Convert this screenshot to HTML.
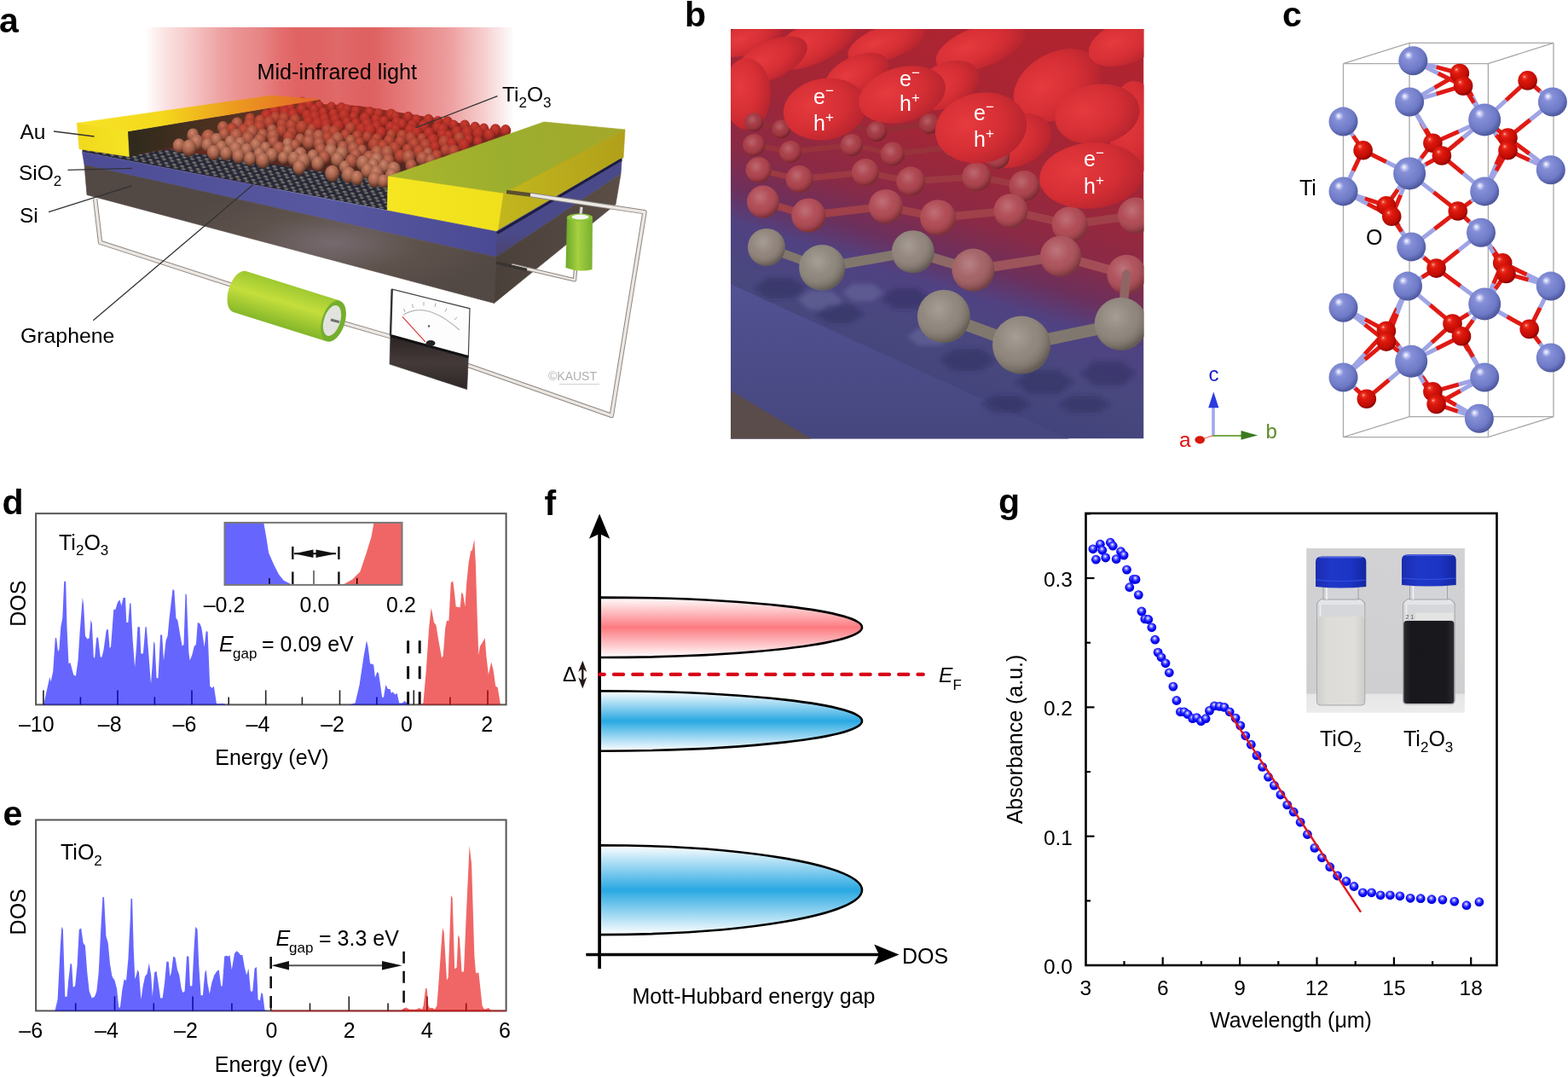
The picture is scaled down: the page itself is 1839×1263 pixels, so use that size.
<!DOCTYPE html>
<html><head><meta charset="utf-8"><title>Ti2O3 figure</title>
<style>
html,body{margin:0;padding:0;background:#fff;overflow:hidden;}
svg{display:block}
text{font-family:"Liberation Sans", Arial, Helvetica, sans-serif;fill:#000;}
</style></head>
<body>
<svg width="1839" height="1263" viewBox="0 0 1839 1263">
<defs>
<linearGradient id="gred" x1="0" y1="0" x2="0" y2="1">
 <stop offset="0" stop-color="#fff"/><stop offset="0.5" stop-color="#fc7a80"/><stop offset="1" stop-color="#fff"/>
</linearGradient>
<linearGradient id="gblue" x1="0" y1="0" x2="0" y2="1">
 <stop offset="0" stop-color="#fff"/><stop offset="0.5" stop-color="#28a8e2"/><stop offset="1" stop-color="#fff"/>
</linearGradient>
<radialGradient id="gdot" cx="0.45" cy="0.4" r="0.6" fx="0.45" fy="0.35">
 <stop offset="0" stop-color="#fff"/><stop offset="0.3" stop-color="#6a6aff"/><stop offset="0.6" stop-color="#1010ff"/><stop offset="1" stop-color="#0000d0"/>
</radialGradient>
<linearGradient id="gphotobg" x1="0" y1="0" x2="0" y2="1">
 <stop offset="0" stop-color="#d2d2d4"/><stop offset="0.88" stop-color="#cfcfd1"/><stop offset="0.89" stop-color="#e6e6e6"/><stop offset="1" stop-color="#ececec"/>
</linearGradient>
<linearGradient id="gcap" x1="0" y1="0" x2="1" y2="0">
 <stop offset="0" stop-color="#1a2cb0"/><stop offset="0.3" stop-color="#2038c8"/><stop offset="0.7" stop-color="#1c34c4"/><stop offset="1" stop-color="#1426a0"/>
</linearGradient>
<linearGradient id="gliqw" x1="0" y1="0" x2="1" y2="0">
 <stop offset="0" stop-color="#cfcfcc"/><stop offset="0.2" stop-color="#dddcd9"/><stop offset="0.8" stop-color="#dfdedb"/><stop offset="1" stop-color="#cdcdca"/>
</linearGradient>
<linearGradient id="gliqb" x1="0" y1="0" x2="1" y2="0">
 <stop offset="0" stop-color="#2a2a2e"/><stop offset="0.15" stop-color="#18181c"/><stop offset="0.85" stop-color="#1a1a1e"/><stop offset="1" stop-color="#2c2c30"/>
</linearGradient>

<linearGradient id="grside" gradientUnits="userSpaceOnUse" x1="0" y1="272" x2="0" y2="302"><stop offset="0" stop-color="#4a4a8a"/><stop offset="1" stop-color="#4c4470"/></linearGradient>
<filter id="fblur2" x="-20%" y="-20%" width="140%" height="140%"><feGaussianBlur stdDeviation="2.5"/></filter>
<linearGradient id="glight" gradientUnits="userSpaceOnUse" x1="170" y1="0" x2="603" y2="0">
 <stop offset="0" stop-color="#fff"/><stop offset="0.07" stop-color="#fadada"/><stop offset="0.16" stop-color="#f2b4b4"/>
 <stop offset="0.25" stop-color="#ea9090"/><stop offset="0.37" stop-color="#e26868"/><stop offset="0.48" stop-color="#de5c5c"/>
 <stop offset="0.6" stop-color="#de5e5e"/><stop offset="0.72" stop-color="#e57676"/><stop offset="0.83" stop-color="#eea0a0"/>
 <stop offset="0.92" stop-color="#f6cccc"/><stop offset="1" stop-color="#fff"/>
</linearGradient>
<linearGradient id="glightstreak" gradientUnits="userSpaceOnUse" x1="170" y1="0" x2="260" y2="0" spreadMethod="repeat">
 <stop offset="0" stop-color="#fff" stop-opacity="0"/><stop offset="0.5" stop-color="#fff" stop-opacity="0.15"/><stop offset="1" stop-color="#fff" stop-opacity="0"/>
</linearGradient>
<pattern id="pmesh" patternUnits="userSpaceOnUse" width="7" height="5" patternTransform="rotate(11) skewX(-30) scale(1.35)">
 <rect width="7" height="5" fill="#262636"/>
 <rect x="0.5" y="0.6" width="2.8" height="1.6" fill="#7a7a72"/><rect x="4" y="3" width="2.8" height="1.6" fill="#727270"/>
 <rect x="2.6" y="1.4" width="1.8" height="2" fill="#5e5e5c"/>
</pattern>
<linearGradient id="gwall" gradientUnits="userSpaceOnUse" x1="150" y1="0" x2="376" y2="0">
 <stop offset="0" stop-color="#2e2a1c"/><stop offset="0.4" stop-color="#4a3020"/><stop offset="1" stop-color="#7a3424"/>
</linearGradient>
<radialGradient id="gp1" cx="0.42" cy="0.3" r="0.72"><stop offset="0" stop-color="#cc3c30"/><stop offset="0.55" stop-color="#ac2e26"/><stop offset="1" stop-color="#6c1a14"/></radialGradient>
<radialGradient id="gp2" cx="0.42" cy="0.3" r="0.72"><stop offset="0" stop-color="#cc5440"/><stop offset="0.55" stop-color="#a43e2e"/><stop offset="1" stop-color="#5a2018"/></radialGradient>
<radialGradient id="gp3" cx="0.42" cy="0.3" r="0.72"><stop offset="0" stop-color="#cc7058"/><stop offset="0.55" stop-color="#9e4e3c"/><stop offset="1" stop-color="#4a2218"/></radialGradient>
<radialGradient id="gp4" cx="0.42" cy="0.3" r="0.72"><stop offset="0" stop-color="#d0866c"/><stop offset="0.55" stop-color="#a2604a"/><stop offset="1" stop-color="#4a281c"/></radialGradient>
<linearGradient id="gpunder" gradientUnits="userSpaceOnUse" x1="0" y1="220" x2="0" y2="120"><stop offset="0" stop-color="#3a2420"/><stop offset="0.5" stop-color="#6a2a20"/><stop offset="1" stop-color="#9a2a20"/></linearGradient>
<linearGradient id="gpadtop" gradientUnits="userSpaceOnUse" x1="90" y1="0" x2="376" y2="0">
 <stop offset="0" stop-color="#f6e426"/><stop offset="0.35" stop-color="#f4d81c"/><stop offset="0.65" stop-color="#ec9a1e"/><stop offset="1" stop-color="#e2642a"/>
</linearGradient>
<linearGradient id="gpadfront" x1="0" y1="0" x2="1" y2="0"><stop offset="0" stop-color="#f2d81c"/><stop offset="1" stop-color="#f4e424"/></linearGradient>
<linearGradient id="grpadtop" gradientUnits="userSpaceOnUse" x1="455" y1="207" x2="733" y2="152">
 <stop offset="0" stop-color="#aab62c"/><stop offset="0.5" stop-color="#9cae2e"/><stop offset="1" stop-color="#a4a82a"/>
</linearGradient>
<linearGradient id="grpadside" gradientUnits="userSpaceOnUse" x1="590" y1="0" x2="733" y2="0">
 <stop offset="0" stop-color="#c2b61e"/><stop offset="1" stop-color="#b0a01a"/>
</linearGradient>
<linearGradient id="grpadfront" x1="0" y1="0" x2="1" y2="0"><stop offset="0" stop-color="#f6e622"/><stop offset="1" stop-color="#f0e01c"/></linearGradient>
<linearGradient id="gsio2" gradientUnits="userSpaceOnUse" x1="96" y1="0" x2="580" y2="0">
 <stop offset="0" stop-color="#4c4c96"/><stop offset="0.6" stop-color="#5858a0"/><stop offset="1" stop-color="#4a4a94"/>
</linearGradient>
<radialGradient id="gsi" gradientUnits="userSpaceOnUse" cx="390" cy="285" r="200" gradientTransform="translate(390 285) scale(1 0.35) translate(-390 -285)">
 <stop offset="0" stop-color="#766a70"/><stop offset="0.5" stop-color="#5e524c"/><stop offset="1" stop-color="#524844"/>
</radialGradient>
<linearGradient id="gsiside" gradientUnits="userSpaceOnUse" x1="580" y1="0" x2="730" y2="0">
 <stop offset="0" stop-color="#4a403a"/><stop offset="1" stop-color="#5a4e46"/>
</linearGradient>
<linearGradient id="gsmallcyl" x1="0" y1="0" x2="1" y2="0">
 <stop offset="0" stop-color="#6aa82a"/><stop offset="0.45" stop-color="#a6d040"/><stop offset="1" stop-color="#78b030"/>
</linearGradient>
<linearGradient id="gbatt" gradientUnits="userSpaceOnUse" x1="288" y1="318" x2="274" y2="366" spreadMethod="pad">
 <stop offset="0" stop-color="#9cc830"/><stop offset="0.45" stop-color="#c4de3c"/><stop offset="1" stop-color="#86b82a"/>
</linearGradient>
<linearGradient id="gmeter" x1="0" y1="0" x2="0" y2="1">
 <stop offset="0" stop-color="#2a2222"/><stop offset="0.5" stop-color="#443a3a"/><stop offset="1" stop-color="#2e2626"/>
</linearGradient>
<linearGradient id="gbbg" gradientUnits="userSpaceOnUse" x1="1180" y1="34" x2="1040" y2="485">
 <stop offset="0" stop-color="#b02430"/><stop offset="0.3" stop-color="#a22636"/><stop offset="0.48" stop-color="#8a2a46"/>
 <stop offset="0.58" stop-color="#6c305c"/><stop offset="0.66" stop-color="#504282"/><stop offset="0.8" stop-color="#48487e"/><stop offset="1" stop-color="#40407a"/>
</linearGradient>
<radialGradient id="gshade" cx="0.4" cy="0.36" r="0.64"><stop offset="0" stop-color="#fff" stop-opacity="0.22"/><stop offset="0.5" stop-color="#fff" stop-opacity="0.04"/><stop offset="0.85" stop-color="#000" stop-opacity="0.12"/><stop offset="1" stop-color="#000" stop-opacity="0.3"/></radialGradient>
<radialGradient id="gblob" cx="0.35" cy="0.4" r="0.7"><stop offset="0" stop-color="#e63a3e"/><stop offset="0.6" stop-color="#d42e34"/><stop offset="1" stop-color="#b4242e"/></radialGradient>
<radialGradient id="gballr" cx="0.4" cy="0.35" r="0.65"><stop offset="0" stop-color="#b8505a"/><stop offset="0.7" stop-color="#98384a"/><stop offset="1" stop-color="#70283c"/></radialGradient>
<radialGradient id="gballr2" cx="0.4" cy="0.35" r="0.65"><stop offset="0" stop-color="#d06a6c"/><stop offset="0.7" stop-color="#b25056"/><stop offset="1" stop-color="#8a3a44"/></radialGradient>
<radialGradient id="gballg" cx="0.42" cy="0.35" r="0.65"><stop offset="0" stop-color="#a29a8e"/><stop offset="0.7" stop-color="#867c72"/><stop offset="1" stop-color="#5e564e"/></radialGradient>
<linearGradient id="gbfront" gradientUnits="userSpaceOnUse" x1="0" y1="330" x2="0" y2="515">
 <stop offset="0" stop-color="#525294"/><stop offset="1" stop-color="#46467e"/>
</linearGradient>
<radialGradient id="gti" cx="0.42" cy="0.38" r="0.62" fx="0.33" fy="0.3"><stop offset="0" stop-color="#ffffff"/><stop offset="0.1" stop-color="#c8ccf4"/><stop offset="0.25" stop-color="#8690d8"/><stop offset="0.75" stop-color="#6e7ac6"/><stop offset="1" stop-color="#4c569c"/></radialGradient>
<radialGradient id="go" cx="0.42" cy="0.38" r="0.62" fx="0.33" fy="0.3"><stop offset="0" stop-color="#ffd0c8"/><stop offset="0.12" stop-color="#f04030"/><stop offset="0.3" stop-color="#e01a0e"/><stop offset="0.8" stop-color="#c00c04"/><stop offset="1" stop-color="#880400"/></radialGradient>
</defs>
<rect width="1839" height="1263" fill="#fff"/>
<text x="-1" y="37.5" font-size="41" font-weight="bold">a</text>

<rect x="170" y="32" width="433" height="190" fill="url(#glight)"/>
<rect x="170" y="32" width="433" height="190" fill="url(#glightstreak)" opacity="0.5"/>
<polygon points="96.5,178.3 580.6,270.6 729.8,186.0 600.0,158.0 345.0,121.0 96.5,168.0" fill="url(#pmesh)"/>
<polygon points="149.6,153.9 375.8,116.5 375.8,138.0 151.3,183.5" fill="url(#gwall)"/>
<polygon points="151.0,183.5 196.0,175.0 300.0,190.0 450.0,212.0 600.0,158.0 520.0,140.0 420.0,124.0 376.0,122.0 376.0,137.0" fill="url(#gpunder)"/>
<g><ellipse cx="354.3" cy="120.4" rx="6.0" ry="7.0" fill="url(#gp1)"/><ellipse cx="362.4" cy="123.1" rx="6.0" ry="7.1" fill="url(#gp1)"/><ellipse cx="374.3" cy="124.9" rx="5.7" ry="6.7" fill="url(#gp1)"/><ellipse cx="388.6" cy="125.6" rx="5.3" ry="6.3" fill="url(#gp1)"/><ellipse cx="400.5" cy="127.3" rx="6.2" ry="7.3" fill="url(#gp1)"/><ellipse cx="407.1" cy="128.5" rx="5.4" ry="6.3" fill="url(#gp1)"/><ellipse cx="417.2" cy="131.0" rx="5.9" ry="7.0" fill="url(#gp1)"/><ellipse cx="433.7" cy="132.2" rx="6.2" ry="7.3" fill="url(#gp1)"/><ellipse cx="444.0" cy="133.7" rx="5.7" ry="6.7" fill="url(#gp1)"/><ellipse cx="458.7" cy="134.9" rx="6.3" ry="7.4" fill="url(#gp1)"/><ellipse cx="464.1" cy="136.9" rx="5.4" ry="6.3" fill="url(#gp1)"/><ellipse cx="478.8" cy="137.7" rx="5.8" ry="6.9" fill="url(#gp1)"/><ellipse cx="488.5" cy="140.9" rx="5.6" ry="6.6" fill="url(#gp1)"/><ellipse cx="502.6" cy="140.6" rx="5.9" ry="6.9" fill="url(#gp1)"/><ellipse cx="513.8" cy="142.6" rx="5.7" ry="6.7" fill="url(#gp1)"/><ellipse cx="524.7" cy="143.7" rx="6.4" ry="7.5" fill="url(#gp1)"/><ellipse cx="532.0" cy="146.7" rx="5.4" ry="6.3" fill="url(#gp1)"/><ellipse cx="545.1" cy="147.4" rx="5.9" ry="7.0" fill="url(#gp1)"/><ellipse cx="557.2" cy="150.1" rx="6.2" ry="7.3" fill="url(#gp1)"/><ellipse cx="567.5" cy="151.3" rx="5.7" ry="6.7" fill="url(#gp1)"/><ellipse cx="581.1" cy="153.0" rx="6.6" ry="7.7" fill="url(#gp1)"/><ellipse cx="593.0" cy="153.3" rx="6.2" ry="7.3" fill="url(#gp1)"/><ellipse cx="331.4" cy="125.7" rx="5.8" ry="6.8" fill="url(#gp1)"/><ellipse cx="340.7" cy="126.8" rx="5.5" ry="6.5" fill="url(#gp1)"/><ellipse cx="353.7" cy="128.8" rx="6.3" ry="7.4" fill="url(#gp1)"/><ellipse cx="368.5" cy="129.4" rx="6.1" ry="7.2" fill="url(#gp1)"/><ellipse cx="379.0" cy="132.5" rx="5.6" ry="6.7" fill="url(#gp1)"/><ellipse cx="391.1" cy="134.1" rx="5.7" ry="6.7" fill="url(#gp1)"/><ellipse cx="403.5" cy="135.9" rx="6.8" ry="8.1" fill="url(#gp1)"/><ellipse cx="415.0" cy="137.1" rx="5.6" ry="6.6" fill="url(#gp1)"/><ellipse cx="428.0" cy="139.3" rx="6.5" ry="7.6" fill="url(#gp1)"/><ellipse cx="441.0" cy="140.4" rx="5.9" ry="6.9" fill="url(#gp1)"/><ellipse cx="450.2" cy="142.8" rx="5.8" ry="6.8" fill="url(#gp1)"/><ellipse cx="465.3" cy="143.8" rx="5.8" ry="6.9" fill="url(#gp1)"/><ellipse cx="471.6" cy="146.0" rx="5.8" ry="6.9" fill="url(#gp1)"/><ellipse cx="483.7" cy="147.3" rx="6.0" ry="7.0" fill="url(#gp1)"/><ellipse cx="497.0" cy="148.8" rx="6.7" ry="8.0" fill="url(#gp1)"/><ellipse cx="513.0" cy="150.3" rx="6.3" ry="7.4" fill="url(#gp1)"/><ellipse cx="519.1" cy="152.7" rx="6.8" ry="8.0" fill="url(#gp1)"/><ellipse cx="535.7" cy="155.1" rx="6.4" ry="7.5" fill="url(#gp1)"/><ellipse cx="548.0" cy="156.1" rx="6.9" ry="8.1" fill="url(#gp1)"/><ellipse cx="560.9" cy="157.0" rx="6.8" ry="8.0" fill="url(#gp1)"/><ellipse cx="574.0" cy="158.7" rx="6.8" ry="8.0" fill="url(#gp1)"/><ellipse cx="322.2" cy="131.0" rx="6.8" ry="8.0" fill="url(#gp1)"/><ellipse cx="333.9" cy="132.2" rx="6.1" ry="7.2" fill="url(#gp1)"/><ellipse cx="343.7" cy="134.8" rx="6.5" ry="7.7" fill="url(#gp1)"/><ellipse cx="360.1" cy="135.8" rx="6.2" ry="7.3" fill="url(#gp1)"/><ellipse cx="369.5" cy="137.8" rx="6.8" ry="8.1" fill="url(#gp1)"/><ellipse cx="380.6" cy="140.3" rx="6.5" ry="7.6" fill="url(#gp1)"/><ellipse cx="393.2" cy="140.7" rx="6.3" ry="7.5" fill="url(#gp1)"/><ellipse cx="406.7" cy="143.6" rx="5.6" ry="6.6" fill="url(#gp1)"/><ellipse cx="417.4" cy="145.3" rx="5.8" ry="6.9" fill="url(#gp1)"/><ellipse cx="430.6" cy="146.6" rx="6.9" ry="8.2" fill="url(#gp1)"/><ellipse cx="441.7" cy="148.8" rx="6.2" ry="7.3" fill="url(#gp1)"/><ellipse cx="458.0" cy="149.6" rx="6.1" ry="7.3" fill="url(#gp1)"/><ellipse cx="464.0" cy="152.2" rx="6.3" ry="7.5" fill="url(#gp1)"/><ellipse cx="481.2" cy="153.4" rx="7.0" ry="8.3" fill="url(#gp1)"/><ellipse cx="488.9" cy="155.1" rx="6.0" ry="7.1" fill="url(#gp1)"/><ellipse cx="503.0" cy="156.7" rx="6.3" ry="7.4" fill="url(#gp1)"/><ellipse cx="518.8" cy="158.2" rx="6.2" ry="7.4" fill="url(#gp1)"/><ellipse cx="526.5" cy="159.5" rx="5.6" ry="6.6" fill="url(#gp1)"/><ellipse cx="538.8" cy="162.7" rx="6.8" ry="8.0" fill="url(#gp2)"/><ellipse cx="549.5" cy="163.9" rx="5.6" ry="6.6" fill="url(#gp1)"/><ellipse cx="560.8" cy="166.3" rx="5.6" ry="6.6" fill="url(#gp1)"/><ellipse cx="312.7" cy="136.2" rx="7.0" ry="8.2" fill="url(#gp1)"/><ellipse cx="323.0" cy="138.7" rx="6.4" ry="7.6" fill="url(#gp2)"/><ellipse cx="333.2" cy="139.6" rx="6.8" ry="8.0" fill="url(#gp2)"/><ellipse cx="346.1" cy="141.8" rx="6.8" ry="8.0" fill="url(#gp2)"/><ellipse cx="361.9" cy="143.3" rx="6.3" ry="7.5" fill="url(#gp1)"/><ellipse cx="372.5" cy="146.3" rx="7.2" ry="8.4" fill="url(#gp1)"/><ellipse cx="382.5" cy="147.0" rx="6.7" ry="7.9" fill="url(#gp1)"/><ellipse cx="396.5" cy="148.8" rx="7.1" ry="8.3" fill="url(#gp1)"/><ellipse cx="411.0" cy="151.2" rx="6.7" ry="7.9" fill="url(#gp2)"/><ellipse cx="423.7" cy="152.3" rx="6.7" ry="7.9" fill="url(#gp1)"/><ellipse cx="433.8" cy="153.6" rx="7.2" ry="8.5" fill="url(#gp1)"/><ellipse cx="447.1" cy="155.8" rx="6.2" ry="7.3" fill="url(#gp1)"/><ellipse cx="458.9" cy="158.6" rx="5.8" ry="6.9" fill="url(#gp2)"/><ellipse cx="471.5" cy="159.5" rx="6.5" ry="7.6" fill="url(#gp2)"/><ellipse cx="481.8" cy="162.7" rx="6.9" ry="8.2" fill="url(#gp2)"/><ellipse cx="494.9" cy="162.9" rx="5.9" ry="7.0" fill="url(#gp2)"/><ellipse cx="507.7" cy="165.0" rx="7.0" ry="8.3" fill="url(#gp1)"/><ellipse cx="521.0" cy="167.5" rx="7.2" ry="8.5" fill="url(#gp2)"/><ellipse cx="529.8" cy="168.7" rx="6.2" ry="7.3" fill="url(#gp1)"/><ellipse cx="544.1" cy="170.9" rx="7.0" ry="8.3" fill="url(#gp1)"/><ellipse cx="293.3" cy="139.9" rx="6.2" ry="7.3" fill="url(#gp2)"/><ellipse cx="305.1" cy="142.5" rx="6.8" ry="8.0" fill="url(#gp2)"/><ellipse cx="315.7" cy="144.2" rx="6.8" ry="8.0" fill="url(#gp2)"/><ellipse cx="330.9" cy="146.5" rx="6.5" ry="7.6" fill="url(#gp2)"/><ellipse cx="341.6" cy="148.1" rx="6.9" ry="8.2" fill="url(#gp2)"/><ellipse cx="354.0" cy="150.2" rx="7.4" ry="8.7" fill="url(#gp2)"/><ellipse cx="365.8" cy="151.9" rx="6.0" ry="7.1" fill="url(#gp2)"/><ellipse cx="383.5" cy="153.6" rx="6.6" ry="7.8" fill="url(#gp2)"/><ellipse cx="391.9" cy="155.5" rx="7.3" ry="8.6" fill="url(#gp2)"/><ellipse cx="405.2" cy="158.9" rx="6.2" ry="7.3" fill="url(#gp2)"/><ellipse cx="419.0" cy="160.3" rx="6.4" ry="7.6" fill="url(#gp2)"/><ellipse cx="430.8" cy="161.2" rx="6.0" ry="7.1" fill="url(#gp2)"/><ellipse cx="442.1" cy="164.1" rx="6.7" ry="7.9" fill="url(#gp2)"/><ellipse cx="456.6" cy="165.8" rx="6.7" ry="7.9" fill="url(#gp2)"/><ellipse cx="469.6" cy="167.3" rx="6.9" ry="8.1" fill="url(#gp2)"/><ellipse cx="485.8" cy="169.8" rx="7.2" ry="8.5" fill="url(#gp2)"/><ellipse cx="499.0" cy="171.4" rx="7.3" ry="8.6" fill="url(#gp2)"/><ellipse cx="510.2" cy="172.8" rx="6.2" ry="7.3" fill="url(#gp1)"/><ellipse cx="522.7" cy="176.6" rx="6.2" ry="7.3" fill="url(#gp2)"/><ellipse cx="532.2" cy="178.1" rx="7.2" ry="8.5" fill="url(#gp2)"/><ellipse cx="278.1" cy="145.9" rx="7.1" ry="8.4" fill="url(#gp3)"/><ellipse cx="292.8" cy="147.5" rx="7.5" ry="8.8" fill="url(#gp2)"/><ellipse cx="304.5" cy="149.7" rx="7.2" ry="8.5" fill="url(#gp2)"/><ellipse cx="319.0" cy="152.7" rx="6.1" ry="7.2" fill="url(#gp3)"/><ellipse cx="330.3" cy="153.7" rx="6.8" ry="8.1" fill="url(#gp2)"/><ellipse cx="342.2" cy="156.3" rx="6.3" ry="7.5" fill="url(#gp2)"/><ellipse cx="363.0" cy="157.9" rx="6.1" ry="7.2" fill="url(#gp3)"/><ellipse cx="373.7" cy="160.6" rx="7.2" ry="8.5" fill="url(#gp3)"/><ellipse cx="384.4" cy="162.2" rx="6.7" ry="7.9" fill="url(#gp2)"/><ellipse cx="395.9" cy="163.5" rx="7.4" ry="8.7" fill="url(#gp3)"/><ellipse cx="411.3" cy="165.9" rx="6.6" ry="7.8" fill="url(#gp3)"/><ellipse cx="421.8" cy="168.0" rx="6.0" ry="7.1" fill="url(#gp2)"/><ellipse cx="439.0" cy="170.2" rx="7.4" ry="8.7" fill="url(#gp2)"/><ellipse cx="449.4" cy="172.1" rx="6.8" ry="8.0" fill="url(#gp2)"/><ellipse cx="463.0" cy="175.0" rx="7.5" ry="8.8" fill="url(#gp2)"/><ellipse cx="478.3" cy="176.1" rx="6.6" ry="7.8" fill="url(#gp2)"/><ellipse cx="491.3" cy="178.4" rx="7.2" ry="8.5" fill="url(#gp2)"/><ellipse cx="502.0" cy="180.0" rx="6.1" ry="7.2" fill="url(#gp3)"/><ellipse cx="512.2" cy="183.3" rx="6.6" ry="7.7" fill="url(#gp2)"/><ellipse cx="261.5" cy="149.9" rx="6.7" ry="7.9" fill="url(#gp3)"/><ellipse cx="272.0" cy="151.9" rx="6.8" ry="8.0" fill="url(#gp2)"/><ellipse cx="286.2" cy="153.8" rx="7.4" ry="8.7" fill="url(#gp2)"/><ellipse cx="295.7" cy="155.5" rx="7.4" ry="8.7" fill="url(#gp3)"/><ellipse cx="308.1" cy="158.7" rx="6.5" ry="7.6" fill="url(#gp3)"/><ellipse cx="320.5" cy="160.3" rx="7.6" ry="9.0" fill="url(#gp3)"/><ellipse cx="339.0" cy="161.6" rx="7.1" ry="8.3" fill="url(#gp2)"/><ellipse cx="352.0" cy="164.0" rx="6.3" ry="7.4" fill="url(#gp3)"/><ellipse cx="362.3" cy="167.4" rx="7.7" ry="9.1" fill="url(#gp3)"/><ellipse cx="374.4" cy="169.1" rx="7.0" ry="8.2" fill="url(#gp3)"/><ellipse cx="388.8" cy="169.6" rx="6.8" ry="8.1" fill="url(#gp3)"/><ellipse cx="402.1" cy="173.0" rx="6.6" ry="7.8" fill="url(#gp3)"/><ellipse cx="414.6" cy="175.2" rx="7.3" ry="8.6" fill="url(#gp3)"/><ellipse cx="424.7" cy="176.9" rx="6.2" ry="7.3" fill="url(#gp3)"/><ellipse cx="442.3" cy="179.4" rx="7.6" ry="9.0" fill="url(#gp3)"/><ellipse cx="454.3" cy="179.9" rx="7.7" ry="9.1" fill="url(#gp3)"/><ellipse cx="469.4" cy="183.6" rx="6.9" ry="8.2" fill="url(#gp2)"/><ellipse cx="479.4" cy="185.0" rx="7.7" ry="9.1" fill="url(#gp3)"/><ellipse cx="495.6" cy="186.5" rx="7.5" ry="8.8" fill="url(#gp3)"/><ellipse cx="505.3" cy="188.9" rx="6.9" ry="8.1" fill="url(#gp3)"/><ellipse cx="263.1" cy="158.0" rx="6.7" ry="7.9" fill="url(#gp3)"/><ellipse cx="277.2" cy="160.1" rx="8.0" ry="9.4" fill="url(#gp3)"/><ellipse cx="290.9" cy="163.3" rx="7.8" ry="9.2" fill="url(#gp3)"/><ellipse cx="304.9" cy="165.2" rx="7.4" ry="8.8" fill="url(#gp3)"/><ellipse cx="320.8" cy="166.7" rx="6.6" ry="7.8" fill="url(#gp3)"/><ellipse cx="337.4" cy="169.1" rx="6.3" ry="7.5" fill="url(#gp4)"/><ellipse cx="346.2" cy="171.2" rx="6.4" ry="7.6" fill="url(#gp3)"/><ellipse cx="376.2" cy="176.0" rx="6.9" ry="8.1" fill="url(#gp3)"/><ellipse cx="388.0" cy="177.7" rx="7.7" ry="9.1" fill="url(#gp4)"/><ellipse cx="400.8" cy="180.1" rx="7.6" ry="8.9" fill="url(#gp4)"/><ellipse cx="417.2" cy="182.3" rx="6.9" ry="8.1" fill="url(#gp3)"/><ellipse cx="433.1" cy="185.5" rx="7.5" ry="8.9" fill="url(#gp3)"/><ellipse cx="441.9" cy="188.0" rx="7.8" ry="9.2" fill="url(#gp4)"/><ellipse cx="455.5" cy="189.3" rx="7.4" ry="8.8" fill="url(#gp3)"/><ellipse cx="482.3" cy="194.6" rx="6.8" ry="8.0" fill="url(#gp3)"/><ellipse cx="226.3" cy="158.7" rx="7.0" ry="8.3" fill="url(#gp4)"/><ellipse cx="244.3" cy="161.3" rx="8.0" ry="9.5" fill="url(#gp3)"/><ellipse cx="253.9" cy="164.3" rx="7.0" ry="8.2" fill="url(#gp4)"/><ellipse cx="270.3" cy="167.1" rx="7.0" ry="8.3" fill="url(#gp4)"/><ellipse cx="281.7" cy="168.7" rx="6.7" ry="8.0" fill="url(#gp4)"/><ellipse cx="300.2" cy="170.8" rx="7.4" ry="8.7" fill="url(#gp4)"/><ellipse cx="311.4" cy="173.9" rx="6.4" ry="7.6" fill="url(#gp4)"/><ellipse cx="327.2" cy="175.0" rx="7.5" ry="8.9" fill="url(#gp3)"/><ellipse cx="337.7" cy="177.1" rx="6.6" ry="7.7" fill="url(#gp4)"/><ellipse cx="352.3" cy="181.2" rx="7.5" ry="8.9" fill="url(#gp4)"/><ellipse cx="367.0" cy="183.3" rx="6.8" ry="8.0" fill="url(#gp4)"/><ellipse cx="380.4" cy="185.1" rx="7.0" ry="8.3" fill="url(#gp3)"/><ellipse cx="395.8" cy="187.4" rx="7.7" ry="9.0" fill="url(#gp4)"/><ellipse cx="412.4" cy="189.4" rx="7.6" ry="8.9" fill="url(#gp3)"/><ellipse cx="426.0" cy="191.5" rx="8.1" ry="9.5" fill="url(#gp4)"/><ellipse cx="438.0" cy="193.7" rx="7.1" ry="8.4" fill="url(#gp4)"/><ellipse cx="450.6" cy="195.4" rx="7.1" ry="8.3" fill="url(#gp4)"/><ellipse cx="461.9" cy="199.0" rx="8.1" ry="9.6" fill="url(#gp4)"/><ellipse cx="230.6" cy="167.2" rx="8.2" ry="9.6" fill="url(#gp4)"/><ellipse cx="243.2" cy="170.2" rx="7.0" ry="8.2" fill="url(#gp4)"/><ellipse cx="259.8" cy="173.1" rx="7.0" ry="8.3" fill="url(#gp4)"/><ellipse cx="276.4" cy="175.1" rx="8.0" ry="9.4" fill="url(#gp4)"/><ellipse cx="289.3" cy="176.4" rx="7.2" ry="8.4" fill="url(#gp4)"/><ellipse cx="304.1" cy="180.6" rx="6.6" ry="7.8" fill="url(#gp4)"/><ellipse cx="318.7" cy="182.3" rx="7.5" ry="8.8" fill="url(#gp4)"/><ellipse cx="332.5" cy="185.3" rx="6.6" ry="7.7" fill="url(#gp4)"/><ellipse cx="345.1" cy="186.4" rx="7.6" ry="9.0" fill="url(#gp4)"/><ellipse cx="356.0" cy="189.3" rx="8.1" ry="9.6" fill="url(#gp4)"/><ellipse cx="372.7" cy="192.1" rx="7.5" ry="8.9" fill="url(#gp4)"/><ellipse cx="404.3" cy="196.1" rx="6.7" ry="7.9" fill="url(#gp4)"/><ellipse cx="431.0" cy="200.3" rx="7.6" ry="9.0" fill="url(#gp4)"/><ellipse cx="441.7" cy="203.5" rx="8.2" ry="9.7" fill="url(#gp4)"/><ellipse cx="459.2" cy="206.1" rx="7.5" ry="8.8" fill="url(#gp4)"/><ellipse cx="210.0" cy="170.9" rx="7.3" ry="8.7" fill="url(#gp4)"/><ellipse cx="221.8" cy="173.6" rx="8.5" ry="10.0" fill="url(#gp4)"/><ellipse cx="250.5" cy="179.1" rx="7.7" ry="9.1" fill="url(#gp4)"/><ellipse cx="265.2" cy="180.3" rx="7.1" ry="8.3" fill="url(#gp4)"/><ellipse cx="279.7" cy="183.4" rx="7.2" ry="8.5" fill="url(#gp4)"/><ellipse cx="293.1" cy="186.4" rx="7.1" ry="8.3" fill="url(#gp4)"/><ellipse cx="308.2" cy="188.3" rx="8.0" ry="9.4" fill="url(#gp4)"/><ellipse cx="350.8" cy="196.6" rx="7.4" ry="8.8" fill="url(#gp4)"/><ellipse cx="389.6" cy="203.6" rx="8.4" ry="9.9" fill="url(#gp4)"/><ellipse cx="408.9" cy="205.2" rx="8.2" ry="9.7" fill="url(#gp4)"/><ellipse cx="418.7" cy="208.8" rx="7.4" ry="8.8" fill="url(#gp4)"/><ellipse cx="439.3" cy="210.7" rx="7.8" ry="9.2" fill="url(#gp4)"/><ellipse cx="449.7" cy="212.6" rx="6.9" ry="8.1" fill="url(#gp4)"/></g>
<polygon points="90.4,144.4 318.4,112.2 375.8,116.5 149.6,153.9" fill="url(#gpadtop)" stroke="url(#gpadtop)" stroke-width="0.7" stroke-linejoin="round"/>
<polygon points="90.4,144.4 149.6,153.9 151.3,183.5 93.0,174.8" fill="url(#gpadfront)" stroke="url(#gpadfront)" stroke-width="0.7" stroke-linejoin="round"/>
<polygon points="455.2,207.0 638.0,143.0 733.0,152.0 590.1,226.9" fill="url(#grpadtop)" stroke="url(#grpadtop)" stroke-width="0.7" stroke-linejoin="round"/>
<polygon points="590.1,226.9 733.0,152.0 731.0,185.0 583.5,271.6" fill="url(#grpadside)" stroke="url(#grpadside)" stroke-width="0.7" stroke-linejoin="round"/>
<polygon points="455.2,207.0 590.1,226.9 583.5,271.6 454.3,246.9" fill="url(#grpadfront)" stroke="url(#grpadfront)" stroke-width="0.7" stroke-linejoin="round"/>
<polygon points="96.5,178.3 582.0,271.5 582.0,301.5 99.0,193.5" fill="url(#gsio2)" stroke="url(#gsio2)" stroke-width="0.7" stroke-linejoin="round"/>
<polygon points="99.0,193.5 582.0,301.5 579.5,355.5 102.0,228.5" fill="url(#gsi)" stroke="url(#gsi)" stroke-width="0.7" stroke-linejoin="round"/>
<polygon points="582.0,271.5 729.3,185.8 728.0,204.0 582.0,301.5" fill="url(#grside)" stroke="url(#grside)" stroke-width="0.7" stroke-linejoin="round"/>
<polygon points="582.0,301.5 728.0,204.0 722.0,239.7 579.5,355.5" fill="url(#gsiside)" stroke="url(#gsiside)" stroke-width="0.7" stroke-linejoin="round"/>
<line x1="583" y1="273.5" x2="729" y2="187" stroke="#1c1c44" stroke-width="3"/>
<path d="M111.6,233.3 L117.6,284.3 L271.0,334.0" fill="none" stroke="#8e8680" stroke-width="5.4" stroke-linejoin="round"/><path d="M111.6,233.3 L117.6,284.3 L271.0,334.0" fill="none" stroke="#ebe7e3" stroke-width="3.4" stroke-linejoin="round"/>
<path d="M398.0,377.4 L459.0,395.0" fill="none" stroke="#8e8680" stroke-width="5.4" stroke-linejoin="round"/><path d="M398.0,377.4 L459.0,395.0" fill="none" stroke="#ebe7e3" stroke-width="3.4" stroke-linejoin="round"/>
<path d="M547.6,428.0 L717.3,487.4 L756.0,248.7 L622.0,228.5" fill="none" stroke="#8e8680" stroke-width="5.4" stroke-linejoin="round"/><path d="M547.6,428.0 L717.3,487.4 L756.0,248.7 L622.0,228.5" fill="none" stroke="#ebe7e3" stroke-width="3.4" stroke-linejoin="round"/>
<path d="M594,225 L622,228.5" stroke="#5a5030" stroke-width="4.5"/>
<path d="M682.0,242.8 L681.0,252.0" fill="none" stroke="#8e8680" stroke-width="4.199999999999999" stroke-linejoin="round"/><path d="M682.0,242.8 L681.0,252.0" fill="none" stroke="#ebe7e3" stroke-width="2.1999999999999997" stroke-linejoin="round"/>
<path d="M600.0,311.0 L674.0,328.3 L675.0,316.0" fill="none" stroke="#8e8680" stroke-width="4.4" stroke-linejoin="round"/><path d="M600.0,311.0 L674.0,328.3 L675.0,316.0" fill="none" stroke="#ebe7e3" stroke-width="2.4" stroke-linejoin="round"/>
<path d="M581.9,308 L618,316.5" stroke="#3a3430" stroke-width="3.5"/>
<path d="M665,254 L663.5,314 Q679,320 694.5,316 L695,256 Z" fill="url(#gsmallcyl)"/>
<ellipse cx="680" cy="255" rx="15" ry="4.5" fill="#8cc43a"/>
<ellipse cx="680.5" cy="254.5" rx="10" ry="3" fill="#f4f6f0"/>
<path d="M288.5,318.1 L398.5,352.6 L383.5,400.4 L273.5,365.9 A13,25 17.4 0 1 288.5,318.1 Z" fill="url(#gbatt)"/>
<ellipse cx="391" cy="376.5" rx="13.5" ry="25" transform="rotate(17.4 391 376.5)" fill="#74ae2c"/>
<ellipse cx="389.5" cy="376" rx="9.5" ry="18.5" transform="rotate(17.4 389.5 376)" fill="#e2e2de"/>
<path d="M388,375 L398,377.6" stroke="#707070" stroke-width="3"/>
<polygon points="459.7,339.2 551.0,361.8 549.3,418.3 458.0,393.1" fill="#fdfdfd" stroke="#444" stroke-width="1.2"/>
<polygon points="458.0,393.1 549.3,418.3 547.6,456.6 457.0,427.0" fill="url(#gmeter)" stroke="url(#gmeter)" stroke-width="0.7" stroke-linejoin="round"/>
<path d="M458,393.5 L549.3,418.5" stroke="#111" stroke-width="3"/>
<path d="M459.7,339.2 L458,393.5" stroke="#333" stroke-width="2.4"/>
<path d="M472.7,369.6 Q500,352 538.9,387" fill="none" stroke="#b8b8b8" stroke-width="1.2"/>
<line x1="475" y1="366" x2="473.5" y2="362" stroke="#aaa" stroke-width="1"/>
<line x1="484.5" y1="361" x2="483.5" y2="356.5" stroke="#aaa" stroke-width="1"/>
<line x1="497" y1="358.5" x2="497" y2="354" stroke="#aaa" stroke-width="1"/>
<line x1="510" y1="360" x2="511" y2="355.5" stroke="#aaa" stroke-width="1"/>
<line x1="522" y1="365.5" x2="524" y2="361.5" stroke="#aaa" stroke-width="1"/>
<line x1="533" y1="375" x2="536" y2="372" stroke="#aaa" stroke-width="1"/>
<line x1="471.9" y1="371.3" x2="498.8" y2="400.9" stroke="#d83030" stroke-width="1.1"/>
<ellipse cx="505" cy="402.5" rx="5.5" ry="3.5" fill="#222"/>
<circle cx="503" cy="382.5" r="1.2" fill="#555"/>
<text x="643" y="446" font-size="14" fill="#b4b4b4" style="fill:#b0b0b0">©KAUST</text>
<line x1="656" y1="450.5" x2="703" y2="450.5" stroke="#d0d0d0" stroke-width="1.2"/>
<line x1="63" y1="154" x2="110.5" y2="160" stroke="#333" stroke-width="1.3"/>
<line x1="79.5" y1="199.4" x2="155" y2="197.3" stroke="#333" stroke-width="1.3"/>
<line x1="57" y1="248.7" x2="154.4" y2="217.8" stroke="#333" stroke-width="1.3"/>
<line x1="109.3" y1="375.8" x2="296.9" y2="216.6" stroke="#333" stroke-width="1.3"/>
<line x1="583.5" y1="112.6" x2="487.4" y2="149.8" stroke="#333" stroke-width="1.3"/>
<text x="23.5" y="163" font-size="24.5">Au</text>
<text x="22" y="210.7" font-size="24.5">SiO<tspan font-size="17" dy="7.5">2</tspan></text>
<text x="23" y="260.6" font-size="24.5">Si</text>
<text x="24" y="402" font-size="24.8">Graphene</text>
<text x="301.5" y="93" font-size="25.2">Mid-infrared light</text>
<text x="589" y="118.8" font-size="24.5">Ti<tspan font-size="17" dy="7">2</tspan><tspan dy="-7">O</tspan><tspan font-size="17" dy="7">3</tspan></text>
<text x="803" y="30.5" font-size="41" font-weight="bold">b</text>

<clipPath id="clipb"><rect x="857" y="34" width="484.5" height="480.5"/></clipPath>
<g clip-path="url(#clipb)">
<rect x="857" y="34" width="484.5" height="480.5" fill="url(#gbbg)"/>
<ellipse cx="880" cy="45" rx="40" ry="18" transform="rotate(-20 880 45)" fill="url(#gblob)"/>
<ellipse cx="955" cy="50" rx="55" ry="24" transform="rotate(-25 955 50)" fill="url(#gblob)"/>
<ellipse cx="905" cy="70" rx="45" ry="22" transform="rotate(-25 905 70)" fill="url(#gblob)"/>
<ellipse cx="1040" cy="50" rx="48" ry="20" transform="rotate(-20 1040 50)" fill="url(#gblob)"/>
<ellipse cx="1005" cy="88" rx="40" ry="22" transform="rotate(-25 1005 88)" fill="url(#gblob)"/>
<ellipse cx="1150" cy="55" rx="55" ry="24" transform="rotate(-20 1150 55)" fill="url(#gblob)"/>
<ellipse cx="1240" cy="100" rx="55" ry="38" transform="rotate(-30 1240 100)" fill="url(#gblob)"/>
<ellipse cx="1320" cy="50" rx="45" ry="25" transform="rotate(-20 1320 50)" fill="url(#gblob)"/>
<ellipse cx="876" cy="110" rx="28" ry="42" transform="rotate(0 876 110)" fill="url(#gblob)"/>
<ellipse cx="1110" cy="100" rx="40" ry="26" transform="rotate(-25 1110 100)" fill="url(#gblob)"/>
<ellipse cx="1330" cy="150" rx="30" ry="55" transform="rotate(0 1330 150)" fill="url(#gblob)"/>
<ellipse cx="1190" cy="165" rx="45" ry="30" transform="rotate(-20 1190 165)" fill="url(#gblob)"/>
<line x1="884.3" y1="143.3" x2="916.3" y2="151.3" stroke="#932e37" stroke-width="5.0600000000000005" stroke-linecap="round"/>
<line x1="916.3" y1="151.3" x2="975.0" y2="141.0" stroke="#932e37" stroke-width="5.0600000000000005" stroke-linecap="round"/>
<line x1="975.0" y1="141.0" x2="1028.2" y2="154.0" stroke="#932e37" stroke-width="5.0600000000000005" stroke-linecap="round"/>
<line x1="1028.2" y1="154.0" x2="1090.0" y2="145.0" stroke="#932e37" stroke-width="5.5200000000000005" stroke-linecap="round"/>
<circle cx="884.3" cy="143.3" r="11.0" fill="#a0323c"/>
<circle cx="884.3" cy="143.3" r="11.0" fill="url(#gshade)"/>
<circle cx="916.3" cy="151.3" r="11.0" fill="#a0323c"/>
<circle cx="916.3" cy="151.3" r="11.0" fill="url(#gshade)"/>
<circle cx="975.0" cy="141.0" r="11.0" fill="#a0323c"/>
<circle cx="975.0" cy="141.0" r="11.0" fill="url(#gshade)"/>
<circle cx="1028.2" cy="154.0" r="12.0" fill="#a0323c"/>
<circle cx="1028.2" cy="154.0" r="12.0" fill="url(#gshade)"/>
<circle cx="1090.0" cy="145.0" r="12.0" fill="#a0323c"/>
<circle cx="1090.0" cy="145.0" r="12.0" fill="url(#gshade)"/>
<line x1="884.3" y1="170.0" x2="927.0" y2="178.0" stroke="#98333c" stroke-width="5.98" stroke-linecap="round"/>
<line x1="927.0" y1="178.0" x2="998.9" y2="170.0" stroke="#98333c" stroke-width="5.98" stroke-linecap="round"/>
<line x1="998.9" y1="170.0" x2="1046.8" y2="180.6" stroke="#98333c" stroke-width="5.98" stroke-linecap="round"/>
<line x1="1046.8" y1="180.6" x2="1120.0" y2="172.0" stroke="#98333c" stroke-width="6.44" stroke-linecap="round"/>
<line x1="1120.0" y1="172.0" x2="1170.0" y2="184.0" stroke="#98333c" stroke-width="6.44" stroke-linecap="round"/>
<circle cx="884.3" cy="170.0" r="13.0" fill="#a63842"/>
<circle cx="884.3" cy="170.0" r="13.0" fill="url(#gshade)"/>
<circle cx="927.0" cy="178.0" r="13.0" fill="#a63842"/>
<circle cx="927.0" cy="178.0" r="13.0" fill="url(#gshade)"/>
<circle cx="998.9" cy="170.0" r="13.0" fill="#a63842"/>
<circle cx="998.9" cy="170.0" r="13.0" fill="url(#gshade)"/>
<circle cx="1046.8" cy="180.6" r="14.0" fill="#a63842"/>
<circle cx="1046.8" cy="180.6" r="14.0" fill="url(#gshade)"/>
<circle cx="1120.0" cy="172.0" r="14.0" fill="#a63842"/>
<circle cx="1120.0" cy="172.0" r="14.0" fill="url(#gshade)"/>
<circle cx="1170.0" cy="184.0" r="14.0" fill="#a63842"/>
<circle cx="1170.0" cy="184.0" r="14.0" fill="url(#gshade)"/>
<line x1="889.6" y1="199.3" x2="937.6" y2="210.0" stroke="#9c3942" stroke-width="6.9" stroke-linecap="round"/>
<line x1="937.6" y1="210.0" x2="1014.9" y2="202.0" stroke="#9c3942" stroke-width="7.36" stroke-linecap="round"/>
<line x1="1014.9" y1="202.0" x2="1068.2" y2="212.6" stroke="#9c3942" stroke-width="7.36" stroke-linecap="round"/>
<line x1="1068.2" y1="212.6" x2="1145.4" y2="207.3" stroke="#9c3942" stroke-width="7.82" stroke-linecap="round"/>
<line x1="1145.4" y1="207.3" x2="1201.4" y2="217.9" stroke="#9c3942" stroke-width="7.82" stroke-linecap="round"/>
<line x1="1201.4" y1="217.9" x2="1280.0" y2="210.0" stroke="#9c3942" stroke-width="8.280000000000001" stroke-linecap="round"/>
<circle cx="889.6" cy="199.3" r="15.0" fill="#aa3e48"/>
<circle cx="889.6" cy="199.3" r="15.0" fill="url(#gshade)"/>
<circle cx="937.6" cy="210.0" r="16.0" fill="#aa3e48"/>
<circle cx="937.6" cy="210.0" r="16.0" fill="url(#gshade)"/>
<circle cx="1014.9" cy="202.0" r="16.0" fill="#aa3e48"/>
<circle cx="1014.9" cy="202.0" r="16.0" fill="url(#gshade)"/>
<circle cx="1068.2" cy="212.6" r="17.0" fill="#aa3e48"/>
<circle cx="1068.2" cy="212.6" r="17.0" fill="url(#gshade)"/>
<circle cx="1145.4" cy="207.3" r="17.0" fill="#aa3e48"/>
<circle cx="1145.4" cy="207.3" r="17.0" fill="url(#gshade)"/>
<circle cx="1201.4" cy="217.9" r="18.0" fill="#aa3e48"/>
<circle cx="1201.4" cy="217.9" r="18.0" fill="url(#gshade)"/>
<circle cx="1280.0" cy="210.0" r="18.0" fill="#aa3e48"/>
<circle cx="1280.0" cy="210.0" r="18.0" fill="url(#gshade)"/>
<line x1="895.0" y1="236.6" x2="948.3" y2="252.6" stroke="#a04049" stroke-width="8.74" stroke-linecap="round"/>
<line x1="948.3" y1="252.6" x2="1038.9" y2="241.9" stroke="#a04049" stroke-width="9.200000000000001" stroke-linecap="round"/>
<line x1="1038.9" y1="241.9" x2="1100.1" y2="255.2" stroke="#a04049" stroke-width="9.200000000000001" stroke-linecap="round"/>
<line x1="1100.1" y1="255.2" x2="1185.4" y2="247.2" stroke="#a04049" stroke-width="9.200000000000001" stroke-linecap="round"/>
<line x1="1185.4" y1="247.2" x2="1254.7" y2="263.2" stroke="#a04049" stroke-width="9.200000000000001" stroke-linecap="round"/>
<line x1="1254.7" y1="263.2" x2="1332.0" y2="252.6" stroke="#a04049" stroke-width="9.66" stroke-linecap="round"/>
<circle cx="895.0" cy="236.6" r="19.0" fill="#ae4650"/>
<circle cx="895.0" cy="236.6" r="19.0" fill="url(#gshade)"/>
<circle cx="948.3" cy="252.6" r="20.0" fill="#ae4650"/>
<circle cx="948.3" cy="252.6" r="20.0" fill="url(#gshade)"/>
<circle cx="1038.9" cy="241.9" r="20.0" fill="#ae4650"/>
<circle cx="1038.9" cy="241.9" r="20.0" fill="url(#gshade)"/>
<circle cx="1100.1" cy="255.2" r="21.0" fill="#ae4650"/>
<circle cx="1100.1" cy="255.2" r="21.0" fill="url(#gshade)"/>
<circle cx="1185.4" cy="247.2" r="20.0" fill="#ae4650"/>
<circle cx="1185.4" cy="247.2" r="20.0" fill="url(#gshade)"/>
<circle cx="1254.7" cy="263.2" r="21.0" fill="#ae4650"/>
<circle cx="1254.7" cy="263.2" r="21.0" fill="url(#gshade)"/>
<circle cx="1332.0" cy="252.6" r="21.0" fill="#ae4650"/>
<circle cx="1332.0" cy="252.6" r="21.0" fill="url(#gshade)"/>
<ellipse cx="967.5" cy="128" rx="49" ry="36" transform="rotate(-10 967.5 128)" fill="url(#gblob)"/>
<ellipse cx="1058" cy="111" rx="52" ry="32" transform="rotate(-15 1058 111)" fill="url(#gblob)"/>
<ellipse cx="1150.5" cy="150" rx="54" ry="41" transform="rotate(-10 1150.5 150)" fill="url(#gblob)"/>
<ellipse cx="1287" cy="134" rx="50" ry="35" transform="rotate(-10 1287 134)" fill="url(#gblob)"/>
<ellipse cx="1280" cy="206" rx="61" ry="38.6" transform="rotate(-5 1280 206)" fill="url(#gblob)"/>
<line x1="899.0" y1="289.9" x2="964.2" y2="313.9" stroke="#81776d" stroke-width="10.120000000000001" stroke-linecap="round"/>
<line x1="964.2" y1="313.9" x2="1070.8" y2="295.2" stroke="#81776d" stroke-width="11.5" stroke-linecap="round"/>
<line x1="1070.8" y1="295.2" x2="1141.4" y2="316.5" stroke="#8d6866" stroke-width="11.5" stroke-linecap="round"/>
<line x1="1141.4" y1="316.5" x2="1244.0" y2="300.5" stroke="#9d555b" stroke-width="11.040000000000001" stroke-linecap="round"/>
<line x1="1244.0" y1="300.5" x2="1321.3" y2="321.8" stroke="#a34e57" stroke-width="10.58" stroke-linecap="round"/>
<circle cx="899.0" cy="289.9" r="22.0" fill="#8e8178"/><circle cx="899.0" cy="289.9" r="22.0" fill="url(#gshade)"/>
<circle cx="964.2" cy="313.9" r="27.0" fill="#8c847a"/><circle cx="964.2" cy="313.9" r="27.0" fill="url(#gshade)"/>
<circle cx="1070.8" cy="295.2" r="25.0" fill="#8e8178"/><circle cx="1070.8" cy="295.2" r="25.0" fill="url(#gshade)"/>
<circle cx="1141.4" cy="316.5" r="25.0" fill="#a25f62"/><circle cx="1141.4" cy="316.5" r="25.0" fill="url(#gshade)"/>
<circle cx="1244.0" cy="300.5" r="24.0" fill="#ab4f58"/><circle cx="1244.0" cy="300.5" r="24.0" fill="url(#gshade)"/>
<circle cx="1321.3" cy="321.8" r="23.0" fill="#ac4c56"/><circle cx="1321.3" cy="321.8" r="23.0" fill="url(#gshade)"/>
<polygon points="857.0,333.3 1341.0,554.5 1341.0,600.0 857.0,600.0" fill="url(#gbfront)"/>
<polygon points="857.0,458.0 952.0,515.0 857.0,515.0" fill="#5a4c4a"/>
<g filter="url(#fblur2)">
<polygon points="936.0,352.0 949.0,341.0 975.0,341.0 988.0,352.0 975.0,363.0 949.0,363.0" fill="#7474a6" opacity="0.45"/>
<polygon points="988.0,343.0 1000.0,333.0 1024.0,333.0 1036.0,343.0 1024.0,353.0 1000.0,353.0" fill="#7474a6" opacity="0.45"/>
<polygon points="1064.0,395.0 1077.0,385.0 1103.0,385.0 1116.0,395.0 1103.0,405.0 1077.0,405.0" fill="#7474a6" opacity="0.45"/>
<polygon points="885.0,338.0 900.0,326.0 930.0,326.0 945.0,338.0 930.0,350.0 900.0,350.0" fill="#262454" opacity="0.4"/>
<polygon points="957.0,368.0 971.0,357.0 999.0,357.0 1013.0,368.0 999.0,379.0 971.0,379.0" fill="#262454" opacity="0.4"/>
<polygon points="1034.0,350.0 1048.0,338.0 1076.0,338.0 1090.0,350.0 1076.0,362.0 1048.0,362.0" fill="#262454" opacity="0.4"/>
<polygon points="1103.0,422.0 1119.0,409.0 1151.0,409.0 1167.0,422.0 1151.0,435.0 1119.0,435.0" fill="#262454" opacity="0.4"/>
<polygon points="1191.0,448.0 1208.0,434.0 1242.0,434.0 1259.0,448.0 1242.0,462.0 1208.0,462.0" fill="#262454" opacity="0.4"/>
<polygon points="1268.0,438.0 1284.0,424.0 1316.0,424.0 1332.0,438.0 1316.0,452.0 1284.0,452.0" fill="#262454" opacity="0.4"/>
<polygon points="1152.0,474.0 1166.0,464.0 1194.0,464.0 1208.0,474.0 1194.0,484.0 1166.0,484.0" fill="#262454" opacity="0.4"/>
<polygon points="1242.0,474.0 1257.0,464.0 1287.0,464.0 1302.0,474.0 1287.0,484.0 1257.0,484.0" fill="#262454" opacity="0.4"/>
</g>
<line x1="1106.9" y1="371.0" x2="1198.0" y2="404.6" stroke="#80786e" stroke-width="14.26" stroke-linecap="round"/>
<line x1="1198.0" y1="404.6" x2="1314.7" y2="379.9" stroke="#80786e" stroke-width="14.26" stroke-linecap="round"/>
<line x1="1314.7" y1="379.9" x2="1321.3" y2="321.8" stroke="#906564" stroke-width="10.58" stroke-linecap="round"/>
<circle cx="1106.9" cy="371.0" r="31.0" fill="#8d8379"/><circle cx="1106.9" cy="371.0" r="31.0" fill="url(#gshade)"/>
<circle cx="1198.0" cy="404.6" r="34.0" fill="#8d8379"/><circle cx="1198.0" cy="404.6" r="34.0" fill="url(#gshade)"/>
<circle cx="1314.7" cy="379.9" r="31.0" fill="#8d8379"/><circle cx="1314.7" cy="379.9" r="31.0" fill="url(#gshade)"/>
</g>
<text x="954" y="122" font-size="25" style="fill:#fff">e<tspan font-size="17" dy="-10">−</tspan></text>
<text x="954" y="153" font-size="25" style="fill:#fff">h<tspan font-size="17" dy="-10">+</tspan></text>
<text x="1055" y="101" font-size="25" style="fill:#fff">e<tspan font-size="17" dy="-10">−</tspan></text>
<text x="1055" y="130" font-size="25" style="fill:#fff">h<tspan font-size="17" dy="-10">+</tspan></text>
<text x="1142" y="141" font-size="25" style="fill:#fff">e<tspan font-size="17" dy="-10">−</tspan></text>
<text x="1142" y="172" font-size="25" style="fill:#fff">h<tspan font-size="17" dy="-10">+</tspan></text>
<text x="1271" y="195" font-size="25" style="fill:#fff">e<tspan font-size="17" dy="-10">−</tspan></text>
<text x="1271" y="227" font-size="25" style="fill:#fff">h<tspan font-size="17" dy="-10">+</tspan></text>
<text x="1504" y="31" font-size="41" font-weight="bold">c</text>

<line x1="1575.5" y1="74.7" x2="1745.4" y2="74.7" stroke="#a8a8a8" stroke-width="1.3" /><line x1="1653.0" y1="50.3" x2="1822.0" y2="50.3" stroke="#a8a8a8" stroke-width="1.3" /><line x1="1575.5" y1="74.7" x2="1653.0" y2="50.3" stroke="#a8a8a8" stroke-width="1.3" /><line x1="1745.4" y1="74.7" x2="1745.4" y2="512.6" stroke="#a8a8a8" stroke-width="1.3" /><line x1="1822.0" y1="50.3" x2="1822.0" y2="488.7" stroke="#a8a8a8" stroke-width="1.3" /><line x1="1745.4" y1="74.7" x2="1822.0" y2="50.3" stroke="#a8a8a8" stroke-width="1.3" /><line x1="1745.4" y1="512.6" x2="1575.5" y2="512.6" stroke="#a8a8a8" stroke-width="1.3" /><line x1="1822.0" y1="488.7" x2="1653.0" y2="488.7" stroke="#a8a8a8" stroke-width="1.3" /><line x1="1745.4" y1="512.6" x2="1822.0" y2="488.7" stroke="#a8a8a8" stroke-width="1.3" /><line x1="1575.5" y1="512.6" x2="1575.5" y2="74.7" stroke="#a8a8a8" stroke-width="1.3" /><line x1="1653.0" y1="488.7" x2="1653.0" y2="50.3" stroke="#a8a8a8" stroke-width="1.3" /><line x1="1575.5" y1="512.6" x2="1653.0" y2="488.7" stroke="#a8a8a8" stroke-width="1.3" />
<line x1="1657.3" y1="71.3" x2="1684.6" y2="78.7" stroke="#9ea4e4" stroke-width="5"/><line x1="1711.9" y1="86" x2="1684.6" y2="78.7" stroke="#e01a14" stroke-width="5"/><line x1="1741.2" y1="140.5" x2="1726.6" y2="113.2" stroke="#9ea4e4" stroke-width="5"/><line x1="1711.9" y1="86" x2="1726.6" y2="113.2" stroke="#e01a14" stroke-width="5"/><line x1="1653.1" y1="119.5" x2="1682.5" y2="102.8" stroke="#9ea4e4" stroke-width="5"/><line x1="1711.9" y1="86" x2="1682.5" y2="102.8" stroke="#e01a14" stroke-width="5"/><line x1="1741.2" y1="140.5" x2="1728.7" y2="120.6" stroke="#9ea4e4" stroke-width="5"/><line x1="1716.1" y1="100.7" x2="1728.7" y2="120.6" stroke="#e01a14" stroke-width="5"/><line x1="1657.3" y1="71.3" x2="1686.7" y2="86.0" stroke="#9ea4e4" stroke-width="5"/><line x1="1716.1" y1="100.7" x2="1686.7" y2="86.0" stroke="#e01a14" stroke-width="5"/><line x1="1653.1" y1="119.5" x2="1684.6" y2="110.1" stroke="#9ea4e4" stroke-width="5"/><line x1="1716.1" y1="100.7" x2="1684.6" y2="110.1" stroke="#e01a14" stroke-width="5"/><line x1="1820.9" y1="119.5" x2="1806.2" y2="107.0" stroke="#9ea4e4" stroke-width="5"/><line x1="1791.6" y1="94.4" x2="1806.2" y2="107.0" stroke="#e01a14" stroke-width="5"/><line x1="1741.2" y1="140.5" x2="1766.4" y2="117.5" stroke="#9ea4e4" stroke-width="5"/><line x1="1791.6" y1="94.4" x2="1766.4" y2="117.5" stroke="#e01a14" stroke-width="5"/><line x1="1575.5" y1="142.6" x2="1587.0" y2="159.4" stroke="#9ea4e4" stroke-width="5"/><line x1="1598.6" y1="176.2" x2="1587.0" y2="159.4" stroke="#e01a14" stroke-width="5"/><line x1="1575.5" y1="224.4" x2="1587.0" y2="200.3" stroke="#9ea4e4" stroke-width="5"/><line x1="1598.6" y1="176.2" x2="1587.0" y2="200.3" stroke="#e01a14" stroke-width="5"/><line x1="1653.1" y1="203.4" x2="1625.8" y2="189.8" stroke="#9ea4e4" stroke-width="5"/><line x1="1598.6" y1="176.2" x2="1625.8" y2="189.8" stroke="#e01a14" stroke-width="5"/><line x1="1653.1" y1="203.4" x2="1666.8" y2="185.6" stroke="#9ea4e4" stroke-width="5"/><line x1="1680.4" y1="167.8" x2="1666.8" y2="185.6" stroke="#e01a14" stroke-width="5"/><line x1="1653.1" y1="119.5" x2="1666.8" y2="143.7" stroke="#9ea4e4" stroke-width="5"/><line x1="1680.4" y1="167.8" x2="1666.8" y2="143.7" stroke="#e01a14" stroke-width="5"/><line x1="1741.2" y1="140.5" x2="1710.8" y2="154.2" stroke="#9ea4e4" stroke-width="5"/><line x1="1680.4" y1="167.8" x2="1710.8" y2="154.2" stroke="#e01a14" stroke-width="5"/><line x1="1653.1" y1="203.4" x2="1672.0" y2="192.9" stroke="#9ea4e4" stroke-width="5"/><line x1="1690.9" y1="182.5" x2="1672.0" y2="192.9" stroke="#e01a14" stroke-width="5"/><line x1="1741.2" y1="224.4" x2="1716.1" y2="203.4" stroke="#9ea4e4" stroke-width="5"/><line x1="1690.9" y1="182.5" x2="1716.1" y2="203.4" stroke="#e01a14" stroke-width="5"/><line x1="1741.2" y1="140.5" x2="1716.1" y2="161.5" stroke="#9ea4e4" stroke-width="5"/><line x1="1690.9" y1="182.5" x2="1716.1" y2="161.5" stroke="#e01a14" stroke-width="5"/><line x1="1653.1" y1="119.5" x2="1672.0" y2="151.0" stroke="#9ea4e4" stroke-width="5"/><line x1="1690.9" y1="182.5" x2="1672.0" y2="151.0" stroke="#e01a14" stroke-width="5"/><line x1="1741.2" y1="140.5" x2="1754.8" y2="151.0" stroke="#9ea4e4" stroke-width="5"/><line x1="1768.5" y1="161.5" x2="1754.8" y2="151.0" stroke="#e01a14" stroke-width="5"/><line x1="1818.8" y1="199.2" x2="1793.7" y2="180.3" stroke="#9ea4e4" stroke-width="5"/><line x1="1768.5" y1="161.5" x2="1793.7" y2="180.3" stroke="#e01a14" stroke-width="5"/><line x1="1820.9" y1="119.5" x2="1794.7" y2="140.5" stroke="#9ea4e4" stroke-width="5"/><line x1="1768.5" y1="161.5" x2="1794.7" y2="140.5" stroke="#e01a14" stroke-width="5"/><line x1="1741.2" y1="224.4" x2="1754.8" y2="192.9" stroke="#9ea4e4" stroke-width="5"/><line x1="1768.5" y1="161.5" x2="1754.8" y2="192.9" stroke="#e01a14" stroke-width="5"/><line x1="1741.2" y1="140.5" x2="1754.8" y2="158.3" stroke="#9ea4e4" stroke-width="5"/><line x1="1768.5" y1="176.2" x2="1754.8" y2="158.3" stroke="#e01a14" stroke-width="5"/><line x1="1818.8" y1="199.2" x2="1793.7" y2="187.7" stroke="#9ea4e4" stroke-width="5"/><line x1="1768.5" y1="176.2" x2="1793.7" y2="187.7" stroke="#e01a14" stroke-width="5"/><line x1="1741.2" y1="224.4" x2="1754.8" y2="200.3" stroke="#9ea4e4" stroke-width="5"/><line x1="1768.5" y1="176.2" x2="1754.8" y2="200.3" stroke="#e01a14" stroke-width="5"/><line x1="1653.1" y1="203.4" x2="1639.5" y2="222.3" stroke="#9ea4e4" stroke-width="5"/><line x1="1625.9" y1="241.2" x2="1639.5" y2="222.3" stroke="#e01a14" stroke-width="5"/><line x1="1575.5" y1="224.4" x2="1600.7" y2="232.8" stroke="#9ea4e4" stroke-width="5"/><line x1="1625.9" y1="241.2" x2="1600.7" y2="232.8" stroke="#e01a14" stroke-width="5"/><line x1="1655.2" y1="289.4" x2="1640.6" y2="265.3" stroke="#9ea4e4" stroke-width="5"/><line x1="1625.9" y1="241.2" x2="1640.6" y2="265.3" stroke="#e01a14" stroke-width="5"/><line x1="1655.2" y1="289.4" x2="1643.7" y2="271.6" stroke="#9ea4e4" stroke-width="5"/><line x1="1632.2" y1="253.8" x2="1643.7" y2="271.6" stroke="#e01a14" stroke-width="5"/><line x1="1653.1" y1="203.4" x2="1642.7" y2="228.6" stroke="#9ea4e4" stroke-width="5"/><line x1="1632.2" y1="253.8" x2="1642.7" y2="228.6" stroke="#e01a14" stroke-width="5"/><line x1="1575.5" y1="224.4" x2="1603.8" y2="239.1" stroke="#9ea4e4" stroke-width="5"/><line x1="1632.2" y1="253.8" x2="1603.8" y2="239.1" stroke="#e01a14" stroke-width="5"/><line x1="1737" y1="272.7" x2="1723.4" y2="260.1" stroke="#9ea4e4" stroke-width="5"/><line x1="1709.8" y1="247.5" x2="1723.4" y2="260.1" stroke="#e01a14" stroke-width="5"/><line x1="1741.2" y1="224.4" x2="1725.5" y2="235.9" stroke="#9ea4e4" stroke-width="5"/><line x1="1709.8" y1="247.5" x2="1725.5" y2="235.9" stroke="#e01a14" stroke-width="5"/><line x1="1655.2" y1="289.4" x2="1682.5" y2="268.4" stroke="#9ea4e4" stroke-width="5"/><line x1="1709.8" y1="247.5" x2="1682.5" y2="268.4" stroke="#e01a14" stroke-width="5"/><line x1="1653.1" y1="203.4" x2="1681.4" y2="225.4" stroke="#9ea4e4" stroke-width="5"/><line x1="1709.8" y1="247.5" x2="1681.4" y2="225.4" stroke="#e01a14" stroke-width="5"/><line x1="1655.2" y1="289.4" x2="1669.9" y2="302.0" stroke="#9ea4e4" stroke-width="5"/><line x1="1684.6" y1="314.6" x2="1669.9" y2="302.0" stroke="#e01a14" stroke-width="5"/><line x1="1651" y1="335.6" x2="1667.8" y2="325.1" stroke="#9ea4e4" stroke-width="5"/><line x1="1684.6" y1="314.6" x2="1667.8" y2="325.1" stroke="#e01a14" stroke-width="5"/><line x1="1737" y1="272.7" x2="1710.8" y2="293.6" stroke="#9ea4e4" stroke-width="5"/><line x1="1684.6" y1="314.6" x2="1710.8" y2="293.6" stroke="#e01a14" stroke-width="5"/><line x1="1741.2" y1="356.5" x2="1712.9" y2="335.6" stroke="#9ea4e4" stroke-width="5"/><line x1="1684.6" y1="314.6" x2="1712.9" y2="335.6" stroke="#e01a14" stroke-width="5"/><line x1="1737" y1="272.7" x2="1749.6" y2="290.5" stroke="#9ea4e4" stroke-width="5"/><line x1="1762.2" y1="308.3" x2="1749.6" y2="290.5" stroke="#e01a14" stroke-width="5"/><line x1="1741.2" y1="356.5" x2="1751.7" y2="332.4" stroke="#9ea4e4" stroke-width="5"/><line x1="1762.2" y1="308.3" x2="1751.7" y2="332.4" stroke="#e01a14" stroke-width="5"/><line x1="1818.8" y1="335.6" x2="1790.5" y2="322.0" stroke="#9ea4e4" stroke-width="5"/><line x1="1762.2" y1="308.3" x2="1790.5" y2="322.0" stroke="#e01a14" stroke-width="5"/><line x1="1741.2" y1="356.5" x2="1753.8" y2="338.7" stroke="#9ea4e4" stroke-width="5"/><line x1="1766.4" y1="320.9" x2="1753.8" y2="338.7" stroke="#e01a14" stroke-width="5"/><line x1="1818.8" y1="335.6" x2="1792.6" y2="328.2" stroke="#9ea4e4" stroke-width="5"/><line x1="1766.4" y1="320.9" x2="1792.6" y2="328.2" stroke="#e01a14" stroke-width="5"/><line x1="1737" y1="272.7" x2="1751.7" y2="296.8" stroke="#9ea4e4" stroke-width="5"/><line x1="1766.4" y1="320.9" x2="1751.7" y2="296.8" stroke="#e01a14" stroke-width="5"/><line x1="1655.2" y1="423.7" x2="1640.6" y2="405.9" stroke="#9ea4e4" stroke-width="5"/><line x1="1625.9" y1="388" x2="1640.6" y2="405.9" stroke="#e01a14" stroke-width="5"/><line x1="1575.5" y1="360.7" x2="1600.7" y2="374.4" stroke="#9ea4e4" stroke-width="5"/><line x1="1625.9" y1="388" x2="1600.7" y2="374.4" stroke="#e01a14" stroke-width="5"/><line x1="1651" y1="335.6" x2="1638.5" y2="361.8" stroke="#9ea4e4" stroke-width="5"/><line x1="1625.9" y1="388" x2="1638.5" y2="361.8" stroke="#e01a14" stroke-width="5"/><line x1="1575.5" y1="442.5" x2="1600.7" y2="415.2" stroke="#9ea4e4" stroke-width="5"/><line x1="1625.9" y1="388" x2="1600.7" y2="415.2" stroke="#e01a14" stroke-width="5"/><line x1="1655.2" y1="423.7" x2="1640.6" y2="412.1" stroke="#9ea4e4" stroke-width="5"/><line x1="1625.9" y1="400.6" x2="1640.6" y2="412.1" stroke="#e01a14" stroke-width="5"/><line x1="1575.5" y1="360.7" x2="1600.7" y2="380.6" stroke="#9ea4e4" stroke-width="5"/><line x1="1625.9" y1="400.6" x2="1600.7" y2="380.6" stroke="#e01a14" stroke-width="5"/><line x1="1575.5" y1="442.5" x2="1600.7" y2="421.6" stroke="#9ea4e4" stroke-width="5"/><line x1="1625.9" y1="400.6" x2="1600.7" y2="421.6" stroke="#e01a14" stroke-width="5"/><line x1="1651" y1="335.6" x2="1638.5" y2="368.1" stroke="#9ea4e4" stroke-width="5"/><line x1="1625.9" y1="400.6" x2="1638.5" y2="368.1" stroke="#e01a14" stroke-width="5"/><line x1="1741.2" y1="356.5" x2="1722.3" y2="368.1" stroke="#9ea4e4" stroke-width="5"/><line x1="1703.5" y1="379.6" x2="1722.3" y2="368.1" stroke="#e01a14" stroke-width="5"/><line x1="1655.2" y1="423.7" x2="1679.3" y2="401.6" stroke="#9ea4e4" stroke-width="5"/><line x1="1703.5" y1="379.6" x2="1679.3" y2="401.6" stroke="#e01a14" stroke-width="5"/><line x1="1651" y1="335.6" x2="1677.2" y2="357.6" stroke="#9ea4e4" stroke-width="5"/><line x1="1703.5" y1="379.6" x2="1677.2" y2="357.6" stroke="#e01a14" stroke-width="5"/><line x1="1741.2" y1="442.5" x2="1722.3" y2="411.1" stroke="#9ea4e4" stroke-width="5"/><line x1="1703.5" y1="379.6" x2="1722.3" y2="411.1" stroke="#e01a14" stroke-width="5"/><line x1="1741.2" y1="356.5" x2="1727.6" y2="375.4" stroke="#9ea4e4" stroke-width="5"/><line x1="1714" y1="394.3" x2="1727.6" y2="375.4" stroke="#e01a14" stroke-width="5"/><line x1="1741.2" y1="442.5" x2="1727.6" y2="418.4" stroke="#9ea4e4" stroke-width="5"/><line x1="1714" y1="394.3" x2="1727.6" y2="418.4" stroke="#e01a14" stroke-width="5"/><line x1="1655.2" y1="423.7" x2="1684.6" y2="409.0" stroke="#9ea4e4" stroke-width="5"/><line x1="1714" y1="394.3" x2="1684.6" y2="409.0" stroke="#e01a14" stroke-width="5"/><line x1="1818.8" y1="419.5" x2="1806.2" y2="402.7" stroke="#9ea4e4" stroke-width="5"/><line x1="1793.7" y1="385.9" x2="1806.2" y2="402.7" stroke="#e01a14" stroke-width="5"/><line x1="1818.8" y1="335.6" x2="1806.2" y2="360.8" stroke="#9ea4e4" stroke-width="5"/><line x1="1793.7" y1="385.9" x2="1806.2" y2="360.8" stroke="#e01a14" stroke-width="5"/><line x1="1741.2" y1="356.5" x2="1767.5" y2="371.2" stroke="#9ea4e4" stroke-width="5"/><line x1="1793.7" y1="385.9" x2="1767.5" y2="371.2" stroke="#e01a14" stroke-width="5"/><line x1="1575.5" y1="442.5" x2="1589.2" y2="455.1" stroke="#9ea4e4" stroke-width="5"/><line x1="1602.8" y1="467.7" x2="1589.2" y2="455.1" stroke="#e01a14" stroke-width="5"/><line x1="1655.2" y1="423.7" x2="1629.0" y2="445.7" stroke="#9ea4e4" stroke-width="5"/><line x1="1602.8" y1="467.7" x2="1629.0" y2="445.7" stroke="#e01a14" stroke-width="5"/><line x1="1655.2" y1="423.7" x2="1667.8" y2="441.5" stroke="#9ea4e4" stroke-width="5"/><line x1="1680.4" y1="459.3" x2="1667.8" y2="441.5" stroke="#e01a14" stroke-width="5"/><line x1="1734.9" y1="490.8" x2="1707.7" y2="475.1" stroke="#9ea4e4" stroke-width="5"/><line x1="1680.4" y1="459.3" x2="1707.7" y2="475.1" stroke="#e01a14" stroke-width="5"/><line x1="1741.2" y1="442.5" x2="1710.8" y2="450.9" stroke="#9ea4e4" stroke-width="5"/><line x1="1680.4" y1="459.3" x2="1710.8" y2="450.9" stroke="#e01a14" stroke-width="5"/><line x1="1734.9" y1="490.8" x2="1709.8" y2="482.4" stroke="#9ea4e4" stroke-width="5"/><line x1="1684.6" y1="474" x2="1709.8" y2="482.4" stroke="#e01a14" stroke-width="5"/><line x1="1655.2" y1="423.7" x2="1669.9" y2="448.9" stroke="#9ea4e4" stroke-width="5"/><line x1="1684.6" y1="474" x2="1669.9" y2="448.9" stroke="#e01a14" stroke-width="5"/><line x1="1741.2" y1="442.5" x2="1712.9" y2="458.2" stroke="#9ea4e4" stroke-width="5"/><line x1="1684.6" y1="474" x2="1712.9" y2="458.2" stroke="#e01a14" stroke-width="5"/>
<circle cx="1657.3" cy="71.3" r="17.0" fill="url(#gti)"/>
<circle cx="1653.1" cy="119.5" r="17.0" fill="url(#gti)"/>
<circle cx="1575.5" cy="142.6" r="17.0" fill="url(#gti)"/>
<circle cx="1741.2" cy="140.5" r="19.0" fill="url(#gti)"/>
<circle cx="1820.9" cy="119.5" r="17.0" fill="url(#gti)"/>
<circle cx="1818.8" cy="199.2" r="17.0" fill="url(#gti)"/>
<circle cx="1653.1" cy="203.4" r="19.0" fill="url(#gti)"/>
<circle cx="1575.5" cy="224.4" r="17.0" fill="url(#gti)"/>
<circle cx="1741.2" cy="224.4" r="17.0" fill="url(#gti)"/>
<circle cx="1737.0" cy="272.7" r="17.0" fill="url(#gti)"/>
<circle cx="1655.2" cy="289.4" r="17.0" fill="url(#gti)"/>
<circle cx="1651.0" cy="335.6" r="17.0" fill="url(#gti)"/>
<circle cx="1575.5" cy="360.7" r="17.0" fill="url(#gti)"/>
<circle cx="1741.2" cy="356.5" r="19.0" fill="url(#gti)"/>
<circle cx="1818.8" cy="335.6" r="17.0" fill="url(#gti)"/>
<circle cx="1818.8" cy="419.5" r="17.0" fill="url(#gti)"/>
<circle cx="1655.2" cy="423.7" r="19.0" fill="url(#gti)"/>
<circle cx="1575.5" cy="442.5" r="17.0" fill="url(#gti)"/>
<circle cx="1741.2" cy="442.5" r="17.0" fill="url(#gti)"/>
<circle cx="1734.9" cy="490.8" r="17.0" fill="url(#gti)"/>
<circle cx="1711.9" cy="86.0" r="11.3" fill="url(#go)"/>
<circle cx="1716.1" cy="100.7" r="11.3" fill="url(#go)"/>
<circle cx="1791.6" cy="94.4" r="11.3" fill="url(#go)"/>
<circle cx="1598.6" cy="176.2" r="11.3" fill="url(#go)"/>
<circle cx="1680.4" cy="167.8" r="11.3" fill="url(#go)"/>
<circle cx="1690.9" cy="182.5" r="11.3" fill="url(#go)"/>
<circle cx="1768.5" cy="161.5" r="11.3" fill="url(#go)"/>
<circle cx="1768.5" cy="176.2" r="11.3" fill="url(#go)"/>
<circle cx="1625.9" cy="241.2" r="11.3" fill="url(#go)"/>
<circle cx="1632.2" cy="253.8" r="11.3" fill="url(#go)"/>
<circle cx="1709.8" cy="247.5" r="11.3" fill="url(#go)"/>
<circle cx="1684.6" cy="314.6" r="11.3" fill="url(#go)"/>
<circle cx="1762.2" cy="308.3" r="11.3" fill="url(#go)"/>
<circle cx="1766.4" cy="320.9" r="11.3" fill="url(#go)"/>
<circle cx="1625.9" cy="388.0" r="11.3" fill="url(#go)"/>
<circle cx="1625.9" cy="400.6" r="11.3" fill="url(#go)"/>
<circle cx="1703.5" cy="379.6" r="11.3" fill="url(#go)"/>
<circle cx="1714.0" cy="394.3" r="11.3" fill="url(#go)"/>
<circle cx="1793.7" cy="385.9" r="11.3" fill="url(#go)"/>
<circle cx="1602.8" cy="467.7" r="11.3" fill="url(#go)"/>
<circle cx="1680.4" cy="459.3" r="11.3" fill="url(#go)"/>
<circle cx="1684.6" cy="474.0" r="11.3" fill="url(#go)"/>
<text x="1524" y="229" font-size="25">Ti</text>
<text x="1602" y="287" font-size="25">O</text>
<line x1="1423" y1="511" x2="1423" y2="476" stroke="#a0a8f0" stroke-width="3.6"/>
<polygon points="1423.3,459.6 1417.2,478.3 1429.4,478.3" fill="#2a3ae0"/>
<line x1="1422" y1="511" x2="1458" y2="511" stroke="#78a848" stroke-width="2"/>
<polygon points="1475.1,510.6 1455.5,504.9 1455.5,515.8" fill="#3a7a20"/>
<line x1="1408" y1="515.5" x2="1422" y2="511" stroke="#f06060" stroke-width="1.2"/>
<ellipse cx="1407.2" cy="515.8" rx="5.8" ry="4.6" fill="#d81808"/>
<text x="1417.5" y="447" font-size="24" style="fill:#1a1acc">c</text>
<text x="1484.5" y="513.6" font-size="24" style="fill:#5a8a28">b</text>
<text x="1383" y="524" font-size="24.5" style="fill:#e01010">a</text>
<text x="2.5" y="603" font-size="41" font-weight="bold">d</text>

<rect x="42.1" y="602.2" width="551.5" height="224.2" fill="none" stroke="#555" stroke-width="2"/>
<line x1="50.9" y1="826.4" x2="50.9" y2="809.4" stroke="#222" stroke-width="1.6"/>
<line x1="138" y1="826.4" x2="138" y2="809.4" stroke="#222" stroke-width="1.6"/>
<line x1="225" y1="826.4" x2="225" y2="809.4" stroke="#222" stroke-width="1.6"/>
<line x1="311.7" y1="826.4" x2="311.7" y2="809.4" stroke="#222" stroke-width="1.6"/>
<line x1="398.5" y1="826.4" x2="398.5" y2="809.4" stroke="#222" stroke-width="1.6"/>
<line x1="485.3" y1="826.4" x2="485.3" y2="809.4" stroke="#222" stroke-width="1.6"/>
<line x1="572" y1="826.4" x2="572" y2="809.4" stroke="#222" stroke-width="1.6"/>
<line x1="94.4" y1="826.4" x2="94.4" y2="817.4" stroke="#222" stroke-width="1.6"/>
<line x1="181.4" y1="826.4" x2="181.4" y2="817.4" stroke="#222" stroke-width="1.6"/>
<line x1="268.2" y1="826.4" x2="268.2" y2="817.4" stroke="#222" stroke-width="1.6"/>
<line x1="354.4" y1="826.4" x2="354.4" y2="817.4" stroke="#222" stroke-width="1.6"/>
<line x1="441.9" y1="826.4" x2="441.9" y2="817.4" stroke="#222" stroke-width="1.6"/>
<line x1="527.9" y1="826.4" x2="527.9" y2="817.4" stroke="#222" stroke-width="1.6"/>
<polygon points="51.1,826.4 51.1,826.0 53.1,817.5 58.3,794.0 59.6,799.2 62.2,787.5 64.8,748.3 66.1,747.7 68.1,764.0 69.4,761.4 71.3,735.3 73.3,724.8 75.2,681.7 77.2,681.7 78.5,735.3 80.5,778.3 82.4,777.0 86.3,791.4 88.9,792.7 91.5,774.4 93.5,743.1 96.8,700.7 98.1,709.2 100.0,745.7 102.6,749.6 104.6,748.3 106.6,726.8 107.9,731.3 109.8,770.5 111.1,771.8 113.1,748.3 115.0,747.0 117.7,770.5 119.6,770.5 121.6,761.4 124.8,738.5 126.8,737.9 128.7,760.0 130.0,758.7 133.3,714.4 135.3,715.0 137.9,706.5 140.5,703.3 142.4,710.5 144.4,701.3 147.0,700.7 148.3,730.0 150.3,730.0 152.2,707.2 153.5,707.8 155.5,748.3 158.1,782.2 160.1,758.7 161.4,735.3 164.0,735.3 165.3,766.6 167.9,766.6 170.5,735.3 171.8,735.3 174.4,767.9 177.0,801.8 179.0,774.4 180.3,752.2 181.6,754.8 183.6,795.3 185.5,795.3 188.1,744.4 190.1,744.4 192.0,774.4 194.6,750.9 196.6,745.7 198.6,724.8 202.5,690.9 204.4,692.2 206.4,724.8 208.4,727.4 211.0,743.1 213.6,757.4 215.5,756.1 217.5,696.1 218.8,697.4 221.4,765.3 222.7,774.4 225.3,767.9 227.9,757.4 229.9,756.1 231.8,730.0 234.5,731.3 236.4,736.6 239.7,758.7 241.6,740.5 243.6,740.5 246.2,804.4 248.8,807.0 250.8,804.4 254.0,825.3 256.6,825.6 260.6,825.0 264.5,826.0 264.5,826.4" fill="rgb(0,0,255)" fill-opacity="0.6"/>
<polygon points="410.0,826.4 416.6,824.5 421.6,802.9 426.6,769.6 429.9,751.3 431.6,758.0 434.1,777.9 438.2,779.6 439.9,794.6 442.4,787.9 444.1,789.6 448.2,817.8 449.9,817.8 452.4,802.9 454.9,807.9 457.4,807.9 459.0,812.9 460.7,811.2 463.2,814.5 465.7,812.9 468.2,824.5 471.5,824.5 474.8,822.0 477.3,824.5 479.8,826.4" fill="rgb(0,0,255)" fill-opacity="0.6"/>
<polygon points="493.1,826.4 496.4,824.5 499.8,786.3 503.1,736.4 505.6,713.1 507.2,719.8 508.9,729.7 511.4,733.1 514.7,753.0 518.0,771.3 519.7,769.6 522.2,736.4 523.9,728.1 526.4,728.1 528.8,683.2 531.3,681.5 533.0,694.8 534.7,711.4 539.7,712.3 541.3,694.8 543.0,696.5 545.5,711.4 547.1,684.8 549.6,659.9 552.1,646.6 553.8,644.9 556.3,632.5 557.9,661.6 559.6,719.8 561.3,768.0 562.9,758.0 567.1,751.3 568.7,748.0 570.4,769.6 572.9,791.2 576.2,776.3 578.7,786.3 581.2,804.5 583.7,806.2 587.0,826.4" fill="rgb(230,0,0)" fill-opacity="0.6"/>
<line x1="478.6" y1="751.3" x2="478.6" y2="826" stroke="#111" stroke-width="3" stroke-dasharray="15,15"/>
<line x1="492.2" y1="751.3" x2="492.2" y2="826" stroke="#111" stroke-width="3" stroke-dasharray="15,15"/>
<rect x="263.5" y="612.9" width="208.0" height="73.0" fill="#fff"/>
<polygon points="263.5,612.9 309.3,612.9 312.2,629.4 315.2,648.5 321.0,661.7 326.9,673.4 332.8,680.8 341.6,685.2 346.0,685.9 263.5,685.9" fill="rgb(0,0,255)" fill-opacity="0.6"/>
<polygon points="471.5,612.9 438.5,612.9 435.5,629.4 429.7,648.5 422.3,670.5 413.5,679.3 403.2,685.2 398.8,685.9 471.5,685.9" fill="rgb(230,0,0)" fill-opacity="0.6"/>
<line x1="316" y1="685.9" x2="316" y2="677.9" stroke="#002" stroke-width="1.5"/>
<line x1="418.7" y1="685.9" x2="418.7" y2="677.9" stroke="#200" stroke-width="1.5"/>
<line x1="368" y1="685.9" x2="368" y2="668.9" stroke="#555" stroke-width="1.6"/>
<line x1="343.3" y1="641" x2="343.3" y2="656" stroke="#111" stroke-width="2.4"/>
<line x1="343.3" y1="670.5" x2="343.3" y2="686" stroke="#111" stroke-width="2.4"/>
<line x1="397.4" y1="641" x2="397.4" y2="656" stroke="#111" stroke-width="2.4"/>
<line x1="397.4" y1="670.5" x2="397.4" y2="686" stroke="#111" stroke-width="2.4"/>
<polygon points="345,649.2 367.5,644.5 367.5,654" fill="#111"/>
<polygon points="394.5,649.2 370.5,644.5 370.5,654" fill="#111"/>
<line x1="345" y1="649.2" x2="394" y2="649.2" stroke="#111" stroke-width="2"/>
<rect x="263.5" y="612.9" width="208.0" height="73.0" fill="none" stroke="#777" stroke-width="2"/>
<text x="263" y="717.5" font-size="25" text-anchor="middle">–0.2</text>
<text x="369" y="717.5" font-size="25" text-anchor="middle">0.0</text>
<text x="470.5" y="717.5" font-size="25" text-anchor="middle">0.2</text>
<text x="69" y="644.6" font-size="25">Ti<tspan font-size="17" dy="6.7">2</tspan><tspan dy="-6.7">O</tspan><tspan font-size="17" dy="6.7">3</tspan></text>
<text x="257" y="764.2" font-size="25" font-style="italic">E</text>
<text x="273" y="771.9" font-size="17">gap</text>
<text x="307" y="764.2" font-size="25">= 0.09 eV</text>
<text x="42.8" y="857.5" font-size="25" text-anchor="middle">–10</text>
<text x="128.7" y="857.5" font-size="25" text-anchor="middle">–8</text>
<text x="216.4" y="857.5" font-size="25" text-anchor="middle">–6</text>
<text x="302.5" y="857.5" font-size="25" text-anchor="middle">–4</text>
<text x="390.1" y="857.5" font-size="25" text-anchor="middle">–2</text>
<text x="476.9" y="857.5" font-size="25" text-anchor="middle">0</text>
<text x="571.3" y="857.5" font-size="25" text-anchor="middle">2</text>
<text x="318.9" y="896.7" font-size="25" text-anchor="middle">Energy (eV)</text>
<text transform="translate(29.5,707.6) rotate(-90)" font-size="25" text-anchor="middle">DOS</text>
<text x="3.5" y="968" font-size="41" font-weight="bold">e</text>

<rect x="42.1" y="961.5" width="551.5" height="223.9" fill="none" stroke="#555" stroke-width="2"/>
<line x1="88.7" y1="1185.4" x2="88.7" y2="1176.4" stroke="#222" stroke-width="1.6"/>
<line x1="134.5" y1="1185.4" x2="134.5" y2="1168.4" stroke="#222" stroke-width="1.6"/>
<line x1="180.3" y1="1185.4" x2="180.3" y2="1176.4" stroke="#222" stroke-width="1.6"/>
<line x1="226.1" y1="1185.4" x2="226.1" y2="1168.4" stroke="#222" stroke-width="1.6"/>
<line x1="271.9" y1="1185.4" x2="271.9" y2="1176.4" stroke="#222" stroke-width="1.6"/>
<line x1="317.7" y1="1185.4" x2="317.7" y2="1168.4" stroke="#222" stroke-width="1.6"/>
<line x1="363.5" y1="1185.4" x2="363.5" y2="1176.4" stroke="#222" stroke-width="1.6"/>
<line x1="409.3" y1="1185.4" x2="409.3" y2="1168.4" stroke="#222" stroke-width="1.6"/>
<line x1="455.1" y1="1185.4" x2="455.1" y2="1176.4" stroke="#222" stroke-width="1.6"/>
<line x1="500.9" y1="1185.4" x2="500.9" y2="1168.4" stroke="#222" stroke-width="1.6"/>
<line x1="546.7" y1="1185.4" x2="546.7" y2="1176.4" stroke="#222" stroke-width="1.6"/>
<polygon points="64.4,1185.4 67.6,1171.9 70.8,1108.9 72.3,1086.8 73.9,1089.9 76.3,1168.8 78.6,1168.8 80.2,1149.9 82.6,1129.4 84.2,1130.9 85.7,1157.7 88.1,1156.2 90.5,1132.5 92.8,1089.9 95.2,1088.4 97.6,1105.7 99.9,1108.9 102.3,1140.4 104.7,1162.5 107.8,1170.4 111.0,1168.8 113.3,1162.5 115.7,1140.4 118.1,1093.1 120.4,1052.1 122.0,1052.1 124.4,1097.8 126.7,1105.7 129.1,1130.9 131.5,1145.1 134.6,1149.9 137.0,1159.3 139.4,1181.4 140.9,1181.4 143.3,1160.9 145.7,1148.3 148.0,1149.9 150.4,1124.6 152.8,1077.3 153.5,1053.7 155.1,1053.7 156.7,1112.0 158.3,1148.3 159.9,1143.5 161.4,1137.2 163.0,1140.4 165.4,1171.9 167.7,1156.2 170.1,1145.1 172.5,1142.0 174.8,1129.4 177.2,1143.5 178.8,1168.8 181.1,1140.4 183.5,1138.8 185.9,1154.6 188.2,1170.4 190.6,1170.4 193.0,1153.0 195.3,1127.8 197.7,1127.8 199.3,1145.1 200.9,1140.4 203.2,1121.5 205.6,1123.0 208.0,1137.2 210.3,1143.5 212.7,1159.3 214.3,1164.0 216.6,1162.5 219.0,1121.5 221.4,1121.5 222.9,1156.2 225.3,1156.2 227.7,1108.9 229.2,1086.8 231.6,1089.9 233.2,1130.9 235.6,1167.2 237.9,1167.2 240.3,1140.4 241.9,1137.2 243.4,1153.0 245.8,1165.6 248.2,1153.0 251.3,1143.5 254.5,1138.8 256.8,1137.2 259.2,1156.2 260.8,1156.2 263.2,1121.5 265.5,1120.7 267.9,1121.5 269.5,1119.9 271.8,1137.2 275.0,1118.3 277.3,1115.2 279.7,1116.7 282.1,1119.9 284.4,1119.9 286.8,1134.1 289.2,1143.5 291.5,1135.7 293.9,1162.5 296.3,1162.5 298.6,1135.7 301.0,1134.1 302.6,1171.9 304.9,1173.5 306.5,1164.0 308.1,1165.6 310.5,1184.5 312.8,1185.4" fill="rgb(0,0,255)" fill-opacity="0.6"/>
<polygon points="470.0,1185.4 473.3,1182.5 476.6,1181.5 480.0,1183.7 488.3,1183.7 491.6,1182.0 494.9,1183.7 496.6,1179.5 499.1,1158.7 500.7,1159.6 502.4,1179.5 504.1,1182.0 507.4,1182.0 509.9,1183.7 512.4,1179.5 514.9,1146.3 519.0,1088.1 520.7,1093.1 524.0,1149.6 525.7,1146.3 529.0,1049.8 530.7,1053.2 533.2,1136.3 535.7,1134.6 537.3,1096.4 539.0,1099.7 541.5,1139.6 544.0,1139.6 546.5,1079.8 550.6,991.6 553.1,1013.3 556.4,1121.3 558.1,1141.3 561.4,1140.5 565.6,1179.5 568.1,1183.7 573.1,1182.0 576.4,1185.4" fill="rgb(230,0,0)" fill-opacity="0.6"/>
<line x1="318" y1="1185.4" x2="593" y2="1185.4" stroke="rgb(230,0,0)" stroke-opacity="0.5" stroke-width="2"/>
<line x1="330" y1="1132.3" x2="460" y2="1132.3" stroke="#555" stroke-width="2"/>
<polygon points="318.5,1132.3 339,1127 339,1137.6" fill="#111"/>
<polygon points="471.5,1132.3 448,1127 448,1137.6" fill="#111"/>
<line x1="317.7" y1="1122" x2="317.7" y2="1185" stroke="#111" stroke-width="2.6" stroke-dasharray="14,9"/>
<line x1="473.6" y1="1115.7" x2="473.6" y2="1185" stroke="#111" stroke-width="2.6" stroke-dasharray="14,9"/>
<text x="71" y="1008" font-size="25">TiO<tspan font-size="17" dy="7">2</tspan></text>
<text x="323.5" y="1109" font-size="25" font-style="italic">E</text>
<text x="339" y="1116.9" font-size="17">gap</text>
<text x="374" y="1109" font-size="25">= 3.3 eV</text>
<text x="36.2" y="1216.9" font-size="25" text-anchor="middle">–6</text>
<text x="124.9" y="1216.9" font-size="25" text-anchor="middle">–4</text>
<text x="218" y="1216.9" font-size="25" text-anchor="middle">–2</text>
<text x="318.4" y="1216.9" font-size="25" text-anchor="middle">0</text>
<text x="409.6" y="1216.9" font-size="25" text-anchor="middle">2</text>
<text x="500.8" y="1216.9" font-size="25" text-anchor="middle">4</text>
<text x="592" y="1216.9" font-size="25" text-anchor="middle">6</text>
<text x="318.4" y="1256.7" font-size="25" text-anchor="middle">Energy (eV)</text>
<text transform="translate(29.5,1069.3) rotate(-90)" font-size="25" text-anchor="middle">DOS</text>
<text x="638.5" y="604" font-size="41" font-weight="bold">f</text>

<path d="M703.5,700.5999999999999 A307.5,35.2 0 0 1 703.5,771.0 Z" fill="url(#gred)" stroke="#000" stroke-width="2.6"/>
<path d="M703.5,810.3 A307.5,35.2 0 0 1 703.5,880.7 Z" fill="url(#gblue)" stroke="#000" stroke-width="2.6"/>
<path d="M703.5,991.3000000000001 A307.5,52.4 0 0 1 703.5,1096.1000000000001 Z" fill="url(#gblue)" stroke="#000" stroke-width="2.6"/>
<line x1="703.1" y1="620" x2="703.1" y2="1136" stroke="#000" stroke-width="3.7"/>
<polygon points="703.1,602.4 691,631.7 703.1,626 715.2,631.7" fill="#000"/>
<line x1="687.3" y1="1119.5" x2="1040" y2="1119.5" stroke="#000" stroke-width="3.7"/>
<polygon points="1054.5,1119.5 1025.2,1107.4 1030.9,1119.5 1025.2,1131.6" fill="#000"/>
<line x1="703.3" y1="790.9" x2="1082.8" y2="790.9" stroke="rgb(215,0,25)" stroke-width="4.2" stroke-linecap="round" stroke-dasharray="11.1,11.18" stroke-dashoffset="5.6"/>
<line x1="683.3" y1="778" x2="683.3" y2="804" stroke="#231815" stroke-width="2.4"/>
<polygon points="683.3,774.7 678.2,788 683.3,784 688.2,788" fill="#231815"/>
<polygon points="683.3,807.6 678.2,794.3 683.3,798.3 688.2,794.3" fill="#231815"/>
<text x="660" y="799.3" font-size="24">Δ</text>
<text x="1101" y="799.8" font-size="24.6"><tspan font-style="italic">E</tspan><tspan font-size="17" dy="8.8">F</tspan></text>
<text x="1058" y="1129.5" font-size="25">DOS</text>
<text x="884" y="1177" font-size="25" text-anchor="middle">Mott-Hubbard energy gap</text>
<text x="1171" y="602" font-size="41" font-weight="bold">g</text>

<rect x="1532.2" y="643" width="185.70000000000005" height="192.79999999999995" fill="url(#gphotobg)"/>
<rect x="1544.5" y="705" width="56.299999999999955" height="122" rx="4" fill="#d6d7da" stroke="#a6a7aa" stroke-width="1"/><rect x="1545.3" y="723" width="54.69999999999995" height="103" rx="3.5" fill="url(#gliqw)"/><path d="M1544.5,709 Q1546.5,703 1552,702 L1593,702 Q1598.8,703 1600.8,709" fill="#e4e5e8" stroke="#9c9da2" stroke-width="1"/><rect x="1552" y="687" width="41" height="16" fill="#d2d4d8" stroke="#a0a2a6" stroke-width="1"/><line x1="1556" y1="688" x2="1556" y2="703" stroke="#f4f4f6" stroke-width="1.5"/><line x1="1548.5" y1="709" x2="1548.5" y2="723" stroke="#f0f0f2" stroke-width="1.5"/><path d="M1543.0,688 L1543.0,658.5 Q1543.0,652.5 1550.5,652.5 L1594.8,652.5 Q1602.3,652.5 1602.3,658.5 L1602.3,688 Q1572.65,691 1543.0,688 Z" fill="url(#gcap)"/><path d="M1543.0,680 Q1572.65,683 1602.3,680" fill="none" stroke="#3050e0" stroke-width="1.2"/><path d="M1547.5,653.7 L1597.8,653.7" stroke="#4a62e0" stroke-width="1.4"/>
<rect x="1645.5" y="705" width="60.700000000000045" height="121" rx="4" fill="#d6d7da" stroke="#a6a7aa" stroke-width="1"/><rect x="1646.3" y="728" width="59.100000000000044" height="97" rx="3.5" fill="url(#gliqb)"/><path d="M1645.5,709 Q1647.5,703 1653.5,702 L1697.5,702 Q1704.2,703 1706.2,709" fill="#e4e5e8" stroke="#9c9da2" stroke-width="1"/><rect x="1653.5" y="685" width="44.0" height="18" fill="#d2d4d8" stroke="#a0a2a6" stroke-width="1"/><line x1="1657.5" y1="686" x2="1657.5" y2="703" stroke="#f4f4f6" stroke-width="1.5"/><line x1="1649.5" y1="709" x2="1649.5" y2="728" stroke="#f0f0f2" stroke-width="1.5"/><path d="M1644.0,686 L1644.0,656.2 Q1644.0,650.2 1651.5,650.2 L1700.2,650.2 Q1707.7,650.2 1707.7,656.2 L1707.7,686 Q1675.85,689 1644.0,686 Z" fill="url(#gcap)"/><path d="M1644.0,678 Q1675.85,681 1707.7,678" fill="none" stroke="#3050e0" stroke-width="1.2"/><path d="M1648.5,651.4000000000001 L1703.2,651.4000000000001" stroke="#4a62e0" stroke-width="1.4"/>
<rect x="1660" y="718.5" width="45" height="8.5" fill="#e4e4e2"/>
<text x="1648.5" y="726" font-size="7" style="fill:#555">2 1</text>
<line x1="1273.5" y1="1056.4" x2="1279.0" y2="1056.4" stroke="#000" stroke-width="2.2"/>
<line x1="1273.5" y1="980.7" x2="1283.5" y2="980.7" stroke="#000" stroke-width="2.2"/>
<line x1="1273.5" y1="905.1" x2="1279.0" y2="905.1" stroke="#000" stroke-width="2.2"/>
<line x1="1273.5" y1="829.4" x2="1283.5" y2="829.4" stroke="#000" stroke-width="2.2"/>
<line x1="1273.5" y1="753.7" x2="1279.0" y2="753.7" stroke="#000" stroke-width="2.2"/>
<line x1="1273.5" y1="678.0" x2="1283.5" y2="678.0" stroke="#000" stroke-width="2.2"/>
<line x1="1273.5" y1="602.4" x2="1279.0" y2="602.4" stroke="#000" stroke-width="2.2"/>
<line x1="1318.5" y1="1132" x2="1318.5" y2="1127" stroke="#000" stroke-width="2.2"/>
<line x1="1363.7" y1="1132" x2="1363.7" y2="1122.5" stroke="#000" stroke-width="2.2"/>
<line x1="1408.9" y1="1132" x2="1408.9" y2="1127" stroke="#000" stroke-width="2.2"/>
<line x1="1454.1" y1="1132" x2="1454.1" y2="1122.5" stroke="#000" stroke-width="2.2"/>
<line x1="1499.3" y1="1132" x2="1499.3" y2="1127" stroke="#000" stroke-width="2.2"/>
<line x1="1544.5" y1="1132" x2="1544.5" y2="1122.5" stroke="#000" stroke-width="2.2"/>
<line x1="1589.7" y1="1132" x2="1589.7" y2="1127" stroke="#000" stroke-width="2.2"/>
<line x1="1634.9" y1="1132" x2="1634.9" y2="1122.5" stroke="#000" stroke-width="2.2"/>
<line x1="1680.1" y1="1132" x2="1680.1" y2="1127" stroke="#000" stroke-width="2.2"/>
<line x1="1725.2" y1="1132" x2="1725.2" y2="1122.5" stroke="#000" stroke-width="2.2"/>
<rect x="1273.5" y="602" width="482" height="530" fill="none" stroke="#000" stroke-width="2.6"/>
<text x="1258" y="1141.9" font-size="24.5" text-anchor="end">0.0</text>
<text x="1258" y="990.5" font-size="24.5" text-anchor="end">0.1</text>
<text x="1258" y="839.2" font-size="24.5" text-anchor="end">0.2</text>
<text x="1258" y="687.8" font-size="24.5" text-anchor="end">0.3</text>
<text x="1273.3" y="1167" font-size="24.5" text-anchor="middle">3</text>
<text x="1363.7" y="1167" font-size="24.5" text-anchor="middle">6</text>
<text x="1454.1" y="1167" font-size="24.5" text-anchor="middle">9</text>
<text x="1544.5" y="1167" font-size="24.5" text-anchor="middle">12</text>
<text x="1634.9" y="1167" font-size="24.5" text-anchor="middle">15</text>
<text x="1725.2" y="1167" font-size="24.5" text-anchor="middle">18</text>
<text x="1514" y="1205.3" font-size="25" text-anchor="middle">Wavelength (μm)</text>
<text transform="translate(1198.5,867) rotate(-90)" font-size="25" text-anchor="middle">Absorbance (a.u.)</text>
<text x="1548" y="874.6" font-size="25">TiO<tspan font-size="17" dy="7">2</tspan></text>
<text x="1646" y="874.6" font-size="25">Ti<tspan font-size="17" dy="7">2</tspan><tspan dy="-7">O</tspan><tspan font-size="17" dy="7">3</tspan></text>
<circle cx="1281.9" cy="643.8" r="5.4" fill="url(#gdot)"/>
<circle cx="1285.4" cy="656.2" r="5.4" fill="url(#gdot)"/>
<circle cx="1290.4" cy="638.2" r="5.4" fill="url(#gdot)"/>
<circle cx="1292.8" cy="645.3" r="5.4" fill="url(#gdot)"/>
<circle cx="1296.7" cy="654" r="5.4" fill="url(#gdot)"/>
<circle cx="1302.3" cy="636.2" r="5.4" fill="url(#gdot)"/>
<circle cx="1305.2" cy="640.2" r="5.4" fill="url(#gdot)"/>
<circle cx="1309.2" cy="655.6" r="5.4" fill="url(#gdot)"/>
<circle cx="1314.5" cy="646.7" r="5.4" fill="url(#gdot)"/>
<circle cx="1318.1" cy="651.1" r="5.4" fill="url(#gdot)"/>
<circle cx="1321.5" cy="668.1" r="5.4" fill="url(#gdot)"/>
<circle cx="1324.8" cy="688.7" r="5.4" fill="url(#gdot)"/>
<circle cx="1329.4" cy="679.4" r="5.4" fill="url(#gdot)"/>
<circle cx="1332" cy="679.4" r="5.4" fill="url(#gdot)"/>
<circle cx="1335.3" cy="697.6" r="5.4" fill="url(#gdot)"/>
<circle cx="1338.9" cy="717" r="5.4" fill="url(#gdot)"/>
<circle cx="1342.8" cy="725.9" r="5.4" fill="url(#gdot)"/>
<circle cx="1346.8" cy="726.5" r="5.4" fill="url(#gdot)"/>
<circle cx="1350.8" cy="735.8" r="5.4" fill="url(#gdot)"/>
<circle cx="1354.7" cy="750.2" r="5.4" fill="url(#gdot)"/>
<circle cx="1358.1" cy="765.1" r="5.4" fill="url(#gdot)"/>
<circle cx="1362" cy="770.8" r="5.4" fill="url(#gdot)"/>
<circle cx="1367" cy="777.8" r="5.4" fill="url(#gdot)"/>
<circle cx="1371.3" cy="788.8" r="5.4" fill="url(#gdot)"/>
<circle cx="1375.9" cy="805.1" r="5.4" fill="url(#gdot)"/>
<circle cx="1379.9" cy="821.5" r="5.4" fill="url(#gdot)"/>
<circle cx="1384.4" cy="834.8" r="5.4" fill="url(#gdot)"/>
<circle cx="1388.8" cy="834.8" r="5.4" fill="url(#gdot)"/>
<circle cx="1393.1" cy="837.7" r="5.4" fill="url(#gdot)"/>
<circle cx="1398.7" cy="842.7" r="5.4" fill="url(#gdot)"/>
<circle cx="1403.6" cy="841.7" r="5.4" fill="url(#gdot)"/>
<circle cx="1408.6" cy="845.7" r="5.4" fill="url(#gdot)"/>
<circle cx="1414.1" cy="842.7" r="5.4" fill="url(#gdot)"/>
<circle cx="1418.5" cy="833.4" r="5.4" fill="url(#gdot)"/>
<circle cx="1424.4" cy="827.8" r="5.4" fill="url(#gdot)"/>
<circle cx="1430.3" cy="828.4" r="5.4" fill="url(#gdot)"/>
<circle cx="1435.9" cy="829.4" r="5.4" fill="url(#gdot)"/>
<circle cx="1442.2" cy="834.8" r="5.4" fill="url(#gdot)"/>
<circle cx="1449.1" cy="842.1" r="5.4" fill="url(#gdot)"/>
<circle cx="1454.8" cy="850.9" r="5.4" fill="url(#gdot)"/>
<circle cx="1460.8" cy="862.8" r="5.4" fill="url(#gdot)"/>
<circle cx="1467.3" cy="873.2" r="5.4" fill="url(#gdot)"/>
<circle cx="1474" cy="885.9" r="5.4" fill="url(#gdot)"/>
<circle cx="1480.6" cy="899.4" r="5.4" fill="url(#gdot)"/>
<circle cx="1487.5" cy="911.2" r="5.4" fill="url(#gdot)"/>
<circle cx="1494.4" cy="921.1" r="5.4" fill="url(#gdot)"/>
<circle cx="1501.9" cy="932" r="5.4" fill="url(#gdot)"/>
<circle cx="1509.7" cy="943.9" r="5.4" fill="url(#gdot)"/>
<circle cx="1517.2" cy="952.2" r="5.4" fill="url(#gdot)"/>
<circle cx="1525.1" cy="964.3" r="5.4" fill="url(#gdot)"/>
<circle cx="1533.4" cy="978.5" r="5.4" fill="url(#gdot)"/>
<circle cx="1541.9" cy="994.4" r="5.4" fill="url(#gdot)"/>
<circle cx="1550.4" cy="1005.8" r="5.4" fill="url(#gdot)"/>
<circle cx="1559.7" cy="1016.7" r="5.4" fill="url(#gdot)"/>
<circle cx="1568.6" cy="1027" r="5.4" fill="url(#gdot)"/>
<circle cx="1578.9" cy="1033.5" r="5.4" fill="url(#gdot)"/>
<circle cx="1588" cy="1039.5" r="5.4" fill="url(#gdot)"/>
<circle cx="1598.3" cy="1046.8" r="5.4" fill="url(#gdot)"/>
<circle cx="1608.6" cy="1046.8" r="5.4" fill="url(#gdot)"/>
<circle cx="1619.1" cy="1049.8" r="5.4" fill="url(#gdot)"/>
<circle cx="1630.4" cy="1049.8" r="5.4" fill="url(#gdot)"/>
<circle cx="1641.9" cy="1050.8" r="5.4" fill="url(#gdot)"/>
<circle cx="1654.1" cy="1053.3" r="5.4" fill="url(#gdot)"/>
<circle cx="1666.2" cy="1053.7" r="5.4" fill="url(#gdot)"/>
<circle cx="1679.1" cy="1054.7" r="5.4" fill="url(#gdot)"/>
<circle cx="1691.9" cy="1055.1" r="5.4" fill="url(#gdot)"/>
<circle cx="1705.8" cy="1057.1" r="5.4" fill="url(#gdot)"/>
<circle cx="1720" cy="1061.7" r="5.4" fill="url(#gdot)"/>
<circle cx="1734.9" cy="1057.7" r="5.4" fill="url(#gdot)"/>
<line x1="1440.5" y1="834" x2="1596" y2="1069.6" stroke="rgb(225,20,30)" stroke-width="2.4"/>
</svg>
</body></html>
